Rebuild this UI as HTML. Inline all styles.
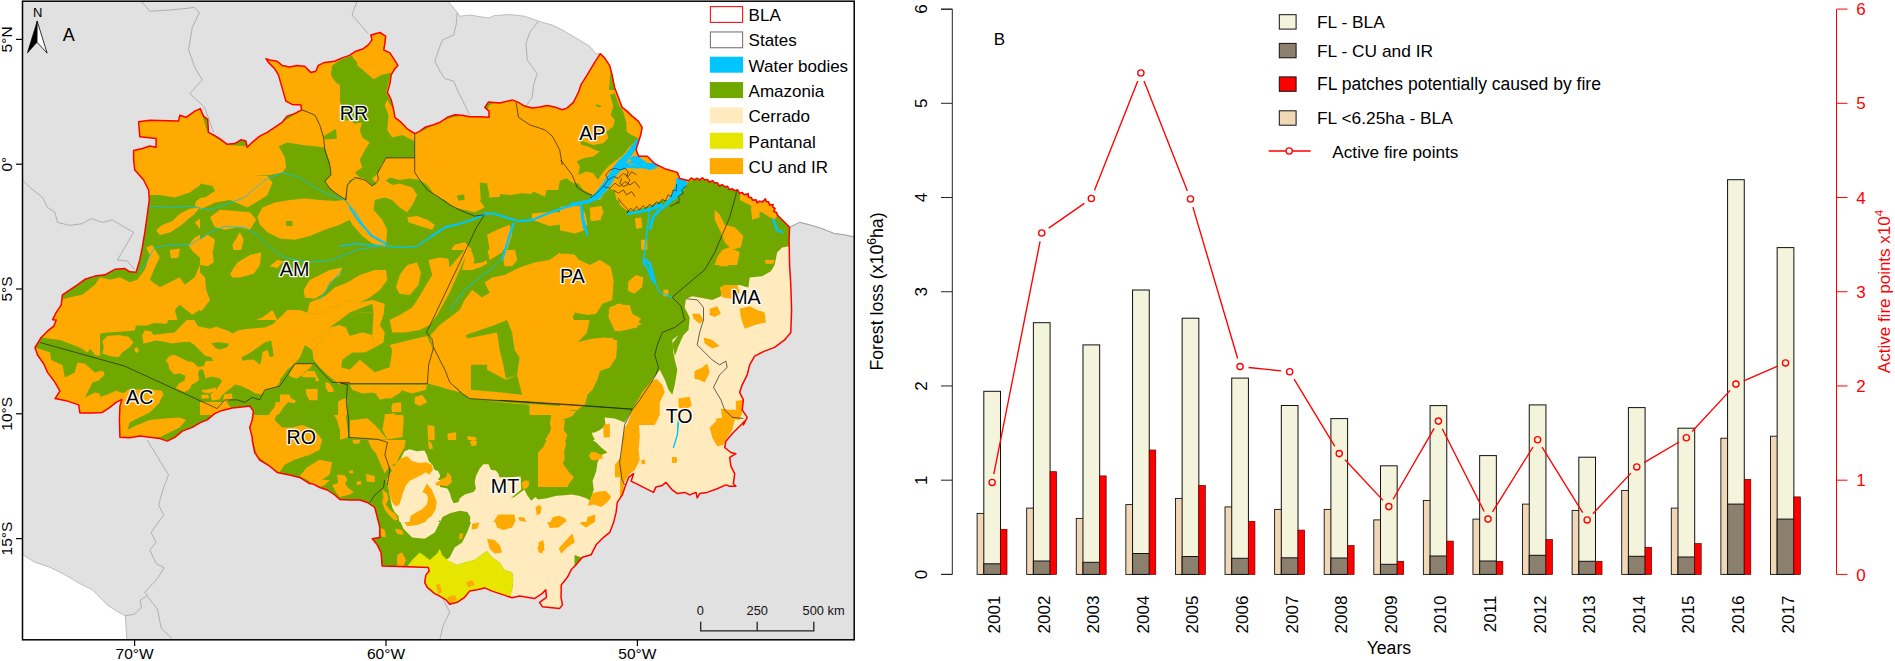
<!DOCTYPE html>
<html lang="en"><head><meta charset="utf-8"><title>Forest loss in the Brazilian Legal Amazon</title>
<style>
html,body{margin:0;padding:0;background:#fff;}
body{width:1895px;height:661px;overflow:hidden;font-family:"Liberation Sans",Arial,sans-serif;}
svg{display:block;}
</style></head><body>
<svg width="1895" height="661" viewBox="0 0 1895 661">
<rect width="1895" height="661" fill="#fff"/>
<defs><clipPath id="fr"><rect x="22.5" y="1.2" width="831.7" height="638.5999999999999"/></clipPath>
<clipPath id="bla"><path d="M133.6 150.5L142.3 148.5L149.8 146.0L156.1 147.3L156.1 138.6L139.8 136.8L138.6 121.8L149.8 120.3L178.5 121.1L179.8 115.3L186.0 117.3L194.8 111.1L200.2 108.6L203.5 116.1L207.7 119.3L208.5 132.3L213.5 134.8L219.7 138.6L227.2 144.3L234.7 143.6L240.9 139.8L245.9 141.1L247.2 147.3L252.2 142.3L259.7 136.1L267.2 132.3L274.6 127.3L282.1 122.3L287.1 116.1L294.6 113.6L301.6 109.8L300.9 104.9L292.1 104.4L285.9 101.1L283.4 92.4L280.9 83.6L278.4 74.9L274.6 68.7L268.4 62.4L265.9 58.7L269.7 59.9L277.1 61.2L282.1 65.4L289.6 66.9L297.1 65.4L304.6 66.2L310.8 72.4L315.8 71.2L318.3 65.4L324.6 62.4L334.6 61.2L342.1 57.9L349.5 55.4L355.8 51.2L363.3 48.7L368.3 44.9L372.0 39.9L370.8 35.0L380.0 32.5L385.7 36.2L384.9 43.7L383.7 49.9L389.9 52.9L393.7 58.7L397.9 65.4L394.9 68.7L391.2 74.9L389.9 83.6L387.4 92.4L391.2 99.9L393.7 109.8L394.9 117.3L401.2 122.3L406.9 128.6L414.9 133.6L419.9 131.1L424.9 127.3L433.6 124.8L439.9 122.3L447.4 117.3L454.8 114.8L462.3 115.3L469.8 116.8L479.8 116.8L489.0 117.3L489.0 111.1L484.8 107.4L488.5 101.9L499.8 102.9L512.3 99.9L518.5 102.4L524.7 106.1L532.2 107.9L539.7 106.9L547.2 105.4L554.7 106.9L562.2 109.8L567.2 107.9L573.4 102.4L578.4 92.4L580.9 84.9L587.2 74.9L594.6 62.4L600.4 53.7L604.6 57.9L609.6 65.4L612.1 74.9L614.6 87.4L618.4 97.4L622.1 107.4L627.1 111.1L632.1 116.1L638.3 121.1L642.1 127.3L640.8 134.8L638.3 142.3L636.1 149.9L638.6 156.2L647.3 156.2L654.8 163.7L664.8 168.7L677.3 172.4L679.8 178.6L688.6 180.8L691.2 177.9L694.4 179.8L697.2 178.2L699.5 180.2L702.4 177.8L704.6 180.1L707.4 179.4L709.2 182.2L712.6 180.6L714.6 183.0L717.5 182.8L719.1 186.0L722.5 184.7L724.6 186.8L727.6 186.3L729.2 189.8L732.4 188.7L734.5 190.6L737.7 189.7L739.2 193.3L742.3 192.6L744.4 194.7L748.2 193.6L748.6 197.2L751.4 197.6L752.5 200.3L756.1 199.7L757.3 203.0L759.5 201.2L762.5 202.1L765.4 198.8L766.2 201.5L768.7 201.8L769.4 205.0L773.1 204.4L772.8 207.0L775.0 208.4L773.7 211.6L776.8 212.5L777.1 214.8L784.6 222.3L789.6 227.3L789.1 239.8L789.6 265.0L790.8 285.0L791.6 309.9L790.8 332.4L784.6 339.9L774.6 347.4L764.6 351.1L754.6 356.1L749.7 364.9L747.2 374.8L742.2 384.8L739.7 392.3L743.4 399.8L742.2 409.8L747.2 417.3L743.4 425.0L745.9 420.0L739.7 426.2L732.2 433.7L725.9 441.2L724.7 447.5L730.9 452.5L735.9 453.7L729.7 457.4L730.9 466.2L734.7 473.7L733.4 483.7L735.9 486.2L729.7 486.2L725.9 484.9L717.2 488.7L707.2 492.4L699.7 493.6L697.2 497.9L696.0 492.4L689.7 494.9L684.7 492.4L677.3 493.6L672.3 489.9L666.0 482.4L662.3 485.4L656.0 486.9L653.5 492.4L646.0 488.7L638.6 484.9L631.1 481.2L633.6 473.7L628.6 477.4L624.8 487.4L622.3 494.9L617.3 502.4L616.1 512.4L613.6 522.4L609.8 532.3L603.6 537.3L596.1 544.8L591.1 554.8L582.4 557.3L576.1 564.8L571.2 569.8L567.4 577.3L561.2 585.0L561.2 589.8L561.0 597.3L562.5 604.8L559.5 608.6L552.0 607.8L542.5 606.8L539.5 602.3L546.5 597.3L545.8 589.8L542.0 593.6L534.5 598.6L527.0 597.3L519.6 596.1L512.1 597.8L507.1 596.1L499.6 593.6L492.1 591.1L484.6 587.9L477.1 589.8L469.6 591.1L464.6 597.3L457.1 602.3L449.7 604.3L445.9 599.8L439.7 596.1L434.7 593.6L427.2 587.4L424.7 582.4L425.9 574.9L429.2 571.1L428.4 567.4L414.7 566.9L399.7 566.6L382.2 566.1L381.0 552.4L377.3 544.9L372.3 538.7L379.8 537.4L379.8 527.4L377.3 517.4L374.8 507.5L367.3 502.5L359.8 500.0L349.8 500.0L339.8 499.5L334.8 495.0L327.3 490.0L319.8 487.5L312.3 483.7L309.6 483.7L299.6 477.4L289.6 475.0L277.1 472.5L269.7 466.2L259.7 460.0L254.7 452.5L252.2 440.0L252.2 437.3L249.7 427.4L252.2 419.9L253.4 411.1L249.7 406.1L242.2 406.9L232.2 407.9L222.2 410.4L214.7 413.6L207.2 419.9L199.8 422.9L192.3 427.4L182.3 431.1L174.8 437.3L167.3 441.1L159.8 438.6L149.8 437.3L139.8 436.1L129.8 437.8L119.9 437.3L119.4 419.9L119.9 406.1L121.9 399.4L116.1 402.4L109.9 407.4L102.4 412.4L92.4 412.9L79.9 412.9L78.7 404.9L67.4 401.1L55.0 398.6L59.9 391.2L55.0 382.4L47.5 372.4L43.7 363.7L37.5 355.0L35.0 347.5L41.2 337.5L47.5 331.2L53.7 326.2L56.2 320.0L52.5 319.8L56.2 312.3L61.2 304.8L62.4 294.8L69.9 289.8L77.4 284.8L84.9 279.3L94.9 276.1L104.9 274.8L114.9 269.3L124.9 268.6L129.8 271.8L136.1 272.3L139.8 259.9L142.3 247.4L144.8 232.4L147.3 214.9L149.3 199.9L148.6 190.0L143.6 180.0L134.8 170.0L133.6 160.0Z"/></clipPath></defs>
<g clip-path="url(#fr)">
<rect x="22.5" y="1.2" width="831.7" height="638.5999999999999" fill="#e1e1e1"/>
<path d="M446.1 -1.2L457.3 12.5L459.8 16.2L469.8 15.0L488.5 18.0L494.8 15.5L509.8 14.5L524.7 16.2L538.5 21.2L552.2 25.0L564.7 31.2L577.2 38.7L589.7 46.2L595.9 53.7L600.4 53.7L604.6 57.9L609.6 65.4L612.1 74.9L614.6 87.4L618.4 97.4L622.1 107.4L627.1 111.1L632.1 116.1L638.3 121.1L642.1 127.3L640.8 134.8L638.3 142.3L636.1 149.9L638.6 156.2L647.3 156.2L654.8 163.7L664.8 168.7L677.3 172.4L679.8 178.6L688.5 179.9L697.2 178.6L707.2 179.9L717.2 183.6L727.2 187.4L737.2 191.1L747.2 194.9L757.1 202.4L764.6 199.9L772.1 204.9L777.1 214.8L784.6 222.3L789.6 227.3L799.6 222.3L809.6 224.8L822.1 228.6L834.5 233.6L844.5 234.8L859.5 237.8L860.0 238.0L860.0 -5.0Z" fill="#fff" stroke="#9a9a9a" stroke-width="0.6"/>
<path d="M20.0 555.0L22.5 554.8L35.0 562.3L50.0 567.3L64.9 574.8L79.9 583.6L92.4 589.8L99.9 597.3L107.4 605.0L112.0 608.0L118.0 612.0L125.3 615.6L127.0 642.0L20.0 642.0Z" fill="#fff" stroke="#9a9a9a" stroke-width="0.6"/>
<path d="M141.1 1.2L149.8 11.2L169.8 10.0L194.8 7.5L199.3 12.5L192.3 27.5L188.5 49.9L194.8 67.4L202.2 79.9L189.8 93.6L204.7 107.4L213.5 132.3" fill="none" stroke="#9a9a9a" stroke-width="0.7"/>
<path d="M357.0 1.2L352.0 15.0L368.3 33.7" fill="none" stroke="#9a9a9a" stroke-width="0.7"/>
<path d="M457.3 12.5L456.1 25.0L453.6 35.0L442.4 39.9L438.6 49.9L434.9 61.2L439.9 71.2L444.9 78.6L453.6 81.1L457.3 89.9L464.8 104.9L469.8 115.3" fill="none" stroke="#9a9a9a" stroke-width="0.7"/>
<path d="M538.5 21.2L529.7 32.5L526.0 43.7L527.2 59.9L537.2 73.6L533.5 84.9L532.2 97.4L526.0 106.1" fill="none" stroke="#9a9a9a" stroke-width="0.7"/>
<path d="M20.0 177.5L30.0 187.5L42.5 197.4L47.5 207.4L55.0 212.4L57.4 222.4L69.9 225.4L82.4 223.7L91.2 218.7L102.4 222.4L112.4 219.9L124.9 227.4L133.6 232.4L117.4 259.9L127.4 261.1L134.8 269.8" fill="none" stroke="#9a9a9a" stroke-width="0.7"/>
<path d="M147.3 440.0L168.5 475.0L163.6 487.4L158.6 504.9L163.6 514.9L151.1 532.4L156.1 542.4L149.8 549.8L156.1 563.6L164.3 567.8L157.3 578.6L144.8 592.3L147.6 595.8" fill="none" stroke="#9a9a9a" stroke-width="0.7"/>
<path d="M147.6 595.7L140.2 600.1L141.4 607.5L134.0 614.4L125.3 615.6" fill="none" stroke="#9a9a9a" stroke-width="0.7"/>
<path d="M147.6 596.4L157.5 609.4L161.3 628.6L172.4 638.5" fill="none" stroke="#9a9a9a" stroke-width="0.7"/>
<path d="M442.2 597.3L449.7 612.3L443.4 624.8L439.7 639.8" fill="none" stroke="#9a9a9a" stroke-width="0.7"/>
<path d="M789.6 227.3L799.6 222.3L809.6 224.8L822.1 228.6L834.5 233.6L844.5 234.8L854.5 237.3" fill="none" stroke="#9a9a9a" stroke-width="0.7"/>
<g clip-path="url(#bla)">
<path d="M133.6 150.5L142.3 148.5L149.8 146.0L156.1 147.3L156.1 138.6L139.8 136.8L138.6 121.8L149.8 120.3L178.5 121.1L179.8 115.3L186.0 117.3L194.8 111.1L200.2 108.6L203.5 116.1L207.7 119.3L208.5 132.3L213.5 134.8L219.7 138.6L227.2 144.3L234.7 143.6L240.9 139.8L245.9 141.1L247.2 147.3L252.2 142.3L259.7 136.1L267.2 132.3L274.6 127.3L282.1 122.3L287.1 116.1L294.6 113.6L301.6 109.8L300.9 104.9L292.1 104.4L285.9 101.1L283.4 92.4L280.9 83.6L278.4 74.9L274.6 68.7L268.4 62.4L265.9 58.7L269.7 59.9L277.1 61.2L282.1 65.4L289.6 66.9L297.1 65.4L304.6 66.2L310.8 72.4L315.8 71.2L318.3 65.4L324.6 62.4L334.6 61.2L342.1 57.9L349.5 55.4L355.8 51.2L363.3 48.7L368.3 44.9L372.0 39.9L370.8 35.0L380.0 32.5L385.7 36.2L384.9 43.7L383.7 49.9L389.9 52.9L393.7 58.7L397.9 65.4L394.9 68.7L391.2 74.9L389.9 83.6L387.4 92.4L391.2 99.9L393.7 109.8L394.9 117.3L401.2 122.3L406.9 128.6L414.9 133.6L419.9 131.1L424.9 127.3L433.6 124.8L439.9 122.3L447.4 117.3L454.8 114.8L462.3 115.3L469.8 116.8L479.8 116.8L489.0 117.3L489.0 111.1L484.8 107.4L488.5 101.9L499.8 102.9L512.3 99.9L518.5 102.4L524.7 106.1L532.2 107.9L539.7 106.9L547.2 105.4L554.7 106.9L562.2 109.8L567.2 107.9L573.4 102.4L578.4 92.4L580.9 84.9L587.2 74.9L594.6 62.4L600.4 53.7L604.6 57.9L609.6 65.4L612.1 74.9L614.6 87.4L618.4 97.4L622.1 107.4L627.1 111.1L632.1 116.1L638.3 121.1L642.1 127.3L640.8 134.8L638.3 142.3L636.1 149.9L638.6 156.2L647.3 156.2L654.8 163.7L664.8 168.7L677.3 172.4L679.8 178.6L688.6 180.8L691.2 177.9L694.4 179.8L697.2 178.2L699.5 180.2L702.4 177.8L704.6 180.1L707.4 179.4L709.2 182.2L712.6 180.6L714.6 183.0L717.5 182.8L719.1 186.0L722.5 184.7L724.6 186.8L727.6 186.3L729.2 189.8L732.4 188.7L734.5 190.6L737.7 189.7L739.2 193.3L742.3 192.6L744.4 194.7L748.2 193.6L748.6 197.2L751.4 197.6L752.5 200.3L756.1 199.7L757.3 203.0L759.5 201.2L762.5 202.1L765.4 198.8L766.2 201.5L768.7 201.8L769.4 205.0L773.1 204.4L772.8 207.0L775.0 208.4L773.7 211.6L776.8 212.5L777.1 214.8L784.6 222.3L789.6 227.3L789.1 239.8L789.6 265.0L790.8 285.0L791.6 309.9L790.8 332.4L784.6 339.9L774.6 347.4L764.6 351.1L754.6 356.1L749.7 364.9L747.2 374.8L742.2 384.8L739.7 392.3L743.4 399.8L742.2 409.8L747.2 417.3L743.4 425.0L745.9 420.0L739.7 426.2L732.2 433.7L725.9 441.2L724.7 447.5L730.9 452.5L735.9 453.7L729.7 457.4L730.9 466.2L734.7 473.7L733.4 483.7L735.9 486.2L729.7 486.2L725.9 484.9L717.2 488.7L707.2 492.4L699.7 493.6L697.2 497.9L696.0 492.4L689.7 494.9L684.7 492.4L677.3 493.6L672.3 489.9L666.0 482.4L662.3 485.4L656.0 486.9L653.5 492.4L646.0 488.7L638.6 484.9L631.1 481.2L633.6 473.7L628.6 477.4L624.8 487.4L622.3 494.9L617.3 502.4L616.1 512.4L613.6 522.4L609.8 532.3L603.6 537.3L596.1 544.8L591.1 554.8L582.4 557.3L576.1 564.8L571.2 569.8L567.4 577.3L561.2 585.0L561.2 589.8L561.0 597.3L562.5 604.8L559.5 608.6L552.0 607.8L542.5 606.8L539.5 602.3L546.5 597.3L545.8 589.8L542.0 593.6L534.5 598.6L527.0 597.3L519.6 596.1L512.1 597.8L507.1 596.1L499.6 593.6L492.1 591.1L484.6 587.9L477.1 589.8L469.6 591.1L464.6 597.3L457.1 602.3L449.7 604.3L445.9 599.8L439.7 596.1L434.7 593.6L427.2 587.4L424.7 582.4L425.9 574.9L429.2 571.1L428.4 567.4L414.7 566.9L399.7 566.6L382.2 566.1L381.0 552.4L377.3 544.9L372.3 538.7L379.8 537.4L379.8 527.4L377.3 517.4L374.8 507.5L367.3 502.5L359.8 500.0L349.8 500.0L339.8 499.5L334.8 495.0L327.3 490.0L319.8 487.5L312.3 483.7L309.6 483.7L299.6 477.4L289.6 475.0L277.1 472.5L269.7 466.2L259.7 460.0L254.7 452.5L252.2 440.0L252.2 437.3L249.7 427.4L252.2 419.9L253.4 411.1L249.7 406.1L242.2 406.9L232.2 407.9L222.2 410.4L214.7 413.6L207.2 419.9L199.8 422.9L192.3 427.4L182.3 431.1L174.8 437.3L167.3 441.1L159.8 438.6L149.8 437.3L139.8 436.1L129.8 437.8L119.9 437.3L119.4 419.9L119.9 406.1L121.9 399.4L116.1 402.4L109.9 407.4L102.4 412.4L92.4 412.9L79.9 412.9L78.7 404.9L67.4 401.1L55.0 398.6L59.9 391.2L55.0 382.4L47.5 372.4L43.7 363.7L37.5 355.0L35.0 347.5L41.2 337.5L47.5 331.2L53.7 326.2L56.2 320.0L52.5 319.8L56.2 312.3L61.2 304.8L62.4 294.8L69.9 289.8L77.4 284.8L84.9 279.3L94.9 276.1L104.9 274.8L114.9 269.3L124.9 268.6L129.8 271.8L136.1 272.3L139.8 259.9L142.3 247.4L144.8 232.4L147.3 214.9L149.3 199.9L148.6 190.0L143.6 180.0L134.8 170.0L133.6 160.0Z" fill="#70a800"/>
<path d="M799.6 245.0L789.6 246.3L782.1 247.5L777.1 252.5L774.6 265.0L770.9 271.2L762.1 276.2L749.7 277.5L748.4 287.5L739.7 285.0L724.7 286.2L720.9 296.2L712.2 299.9L699.7 297.4L692.2 296.2L686.0 298.7L684.7 307.4L689.7 317.4L688.5 329.9L683.5 334.9L678.5 346.1L674.8 356.1L672.3 343.6L678.5 334.9L672.3 339.9L673.3 352.4L674.8 359.9L677.3 369.8L674.8 384.8L672.3 394.8L668.5 389.8L664.8 379.8L659.8 369.8L652.3 379.8L644.8 392.3L637.3 402.3L632.3 409.8L627.3 419.8L632.1 409.9L624.6 422.4L614.6 418.6L604.6 417.4L605.9 427.4L599.6 434.8L592.1 432.3L594.6 439.8L604.6 444.8L599.6 449.8L589.7 454.8L594.6 464.8L595.9 479.8L609.8 422.5L599.9 430.0L591.9 433.7L596.1 442.5L606.1 448.7L606.1 453.7L597.4 461.2L596.1 472.4L593.6 484.9L589.9 499.9L582.4 494.9L572.4 493.6L559.9 492.4L547.4 497.9L532.5 500.4L525.0 492.9L517.5 494.9L510.0 493.6L500.0 492.4L522.1 498.7L512.1 495.0L513.3 488.7L522.1 485.0L522.1 480.0L474.6 480.0L475.9 490.0L469.6 497.5L459.6 502.5L452.1 500.0L449.7 490.0L449.7 480.0L389.7 480.0L387.2 487.5L391.0 497.5L394.7 507.5L398.5 517.4L403.5 528.7L412.2 537.4L424.7 538.7L434.7 532.4L439.7 522.4L449.7 515.0L462.1 511.2L469.6 515.0L470.9 522.4L467.1 532.4L462.1 542.4L454.6 547.4L449.7 557.4L445.9 559.9L457.1 564.9L464.6 562.4L474.6 559.9L484.6 552.4L487.1 551.2L492.1 557.4L499.6 562.4L504.6 569.9L512.1 572.4L513.3 579.9L512.1 589.8L509.6 597.3L512.1 609.8L574.5 619.8L574.5 554.9L700.0 600.0L900.0 600.0L900.0 250.0Z" fill="#ffebbe"/>
<path d="M399.9 459.8L402.4 452.3L412.4 449.8L422.4 452.3L427.4 462.3L434.9 469.8L439.9 477.3L442.4 485.0L389.9 485.0L392.4 469.8L407.2 480.0L389.7 480.0L387.2 487.5Z" fill="#ffebbe"/>
<path d="M474.8 485.0L476.1 474.8L479.8 467.3L487.3 463.6L492.3 469.8L499.8 474.8L514.8 476.0L527.2 479.8L529.7 485.0L529.7 494.8L474.8 494.8Z" fill="#ffebbe"/>
<path d="M407.2 566.6L412.2 559.9L419.7 552.4L424.7 556.1L429.7 559.9L437.2 553.6L439.7 548.7L442.2 554.9L447.2 559.9L457.1 564.9L464.6 562.4L474.6 559.9L484.6 552.4L487.1 551.2L492.1 557.4L499.6 562.4L504.6 569.9L512.1 572.4L513.3 579.9L512.1 589.8L509.6 597.3L509.6 609.8L424.7 609.8L419.7 579.9L424.7 567.4Z" fill="#e6e600"/>
<path d="M127.4 99.9L269.7 49.9L380.0 25.0L380.0 165.0L127.4 165.0Z M340.0 25.0L664.5 25.0L664.5 165.0L340.0 165.0Z M617.3 97.5L613.6 115.0L609.8 125.0L614.8 130.0L609.8 137.4L604.9 143.7L594.9 147.4L586.1 144.9L582.4 149.9L584.9 157.4L577.4 162.4L582.4 171.2L598.6 172.4L599.9 182.4L592.4 187.4L582.4 186.1L577.4 174.9L564.9 177.4L558.7 184.9L557.4 189.9L548.7 191.1L546.2 197.4L539.9 198.6L537.4 192.4L531.2 193.6L527.5 202.4L522.5 196.1L507.5 194.9L500.0 194.9L500.0 97.5Z M622.3 110.0L629.8 112.5L636.1 120.0L640.3 126.2L639.8 135.0L634.8 132.5L632.3 125.0L626.1 123.7L623.6 117.5Z M619.8 164.9L627.3 158.7L636.1 156.9L647.3 162.4L659.8 168.7L674.8 172.4L677.8 177.4L674.8 184.9L669.8 192.4L662.3 199.9L649.8 206.1L637.3 209.8L627.3 211.1L619.8 204.9L617.3 194.9L622.3 184.9L619.8 174.9Z M546.2 222.3L553.7 214.8L562.4 211.1L574.9 209.8L584.9 212.3L587.4 224.8L579.9 232.3L562.4 231.1L552.4 227.3Z M591.1 207.4L601.1 206.1L603.6 212.3L599.9 219.8L589.9 219.3Z M634.8 218.6L641.1 217.3L642.3 227.3L636.1 228.6Z M500.0 224.8L510.0 224.8L513.7 232.3L512.5 249.8L516.2 265.0L500.0 265.0Z M527.5 213.6L535.0 213.6L535.0 219.8L527.5 219.8Z M714.7 209.8L719.7 214.8L724.7 224.8L734.7 227.3L743.4 236.1L740.9 247.3L732.2 249.8L724.7 242.3L719.7 229.8L714.7 219.8Z M722.2 249.8L729.7 247.3L739.7 252.3L737.2 265.0L714.7 265.0L717.2 257.3Z M552.4 257.3L564.9 253.5L574.9 254.8L582.4 265.0L549.9 265.0Z M641.1 239.8L647.3 239.8L647.3 249.8L641.1 249.8Z M734.7 191.1L747.2 196.1L757.1 202.4L764.6 201.1L772.1 206.1L777.1 216.1L774.6 219.8L769.6 217.3L762.1 212.3L754.6 209.8L749.7 204.9L739.7 199.9Z M750.9 207.4L759.6 206.1L759.6 217.3L752.1 219.8Z M340.0 160.0L358.7 160.0L360.5 172.0L370.0 183.7L381.2 181.2L384.9 170.0L387.4 160.0L414.9 160.0L414.9 171.2L423.6 181.2L414.9 193.7L409.9 204.9L414.9 213.7L402.4 218.7L396.2 211.2L388.7 201.2L377.4 195.0L372.5 202.4L381.2 216.2L389.9 232.4L386.2 244.9L370.0 239.9L355.0 227.4L340.0 223.7Z M407.4 216.2L422.4 217.4L434.9 224.9L429.9 228.7L414.9 223.7L407.4 221.2Z M414.9 160.0L579.7 160.0L579.7 170.0L572.2 177.5L560.9 180.0L559.7 186.2L547.2 188.0L546.7 193.0L533.5 192.5L530.2 201.2L525.2 195.0L504.8 195.0L489.8 193.7L489.3 185.0L482.8 182.5L478.8 188.0L480.3 197.4L486.0 204.9L474.8 208.7L459.8 209.9L449.8 204.9L439.9 197.4L432.4 190.0L422.4 180.0L414.9 170.0Z M578.4 175.0L589.7 172.5L599.6 178.7L597.1 190.0L587.2 192.5L579.7 187.5Z M547.2 213.7L557.2 207.4L572.2 204.9L580.9 206.2L583.4 217.4L584.7 229.9L574.7 233.6L564.7 231.2L554.7 226.2L547.2 224.9Z M589.7 207.4L602.1 206.2L600.9 219.9L590.9 221.2Z M488.5 234.9L499.8 231.2L509.8 228.7L506.0 242.4L502.3 252.4L489.8 259.9L487.3 247.4Z M503.5 259.9L506.0 247.4L512.3 237.4L514.8 247.4L517.3 259.9L512.3 266.1L504.8 266.1Z M456.1 249.9L464.8 243.6L472.3 244.9L474.8 257.4L487.3 257.4L482.3 267.4L477.3 277.3L467.3 284.8L457.3 292.3L449.8 307.3L439.9 319.8L434.9 325.0L387.4 325.0L392.4 314.8L404.9 307.3L414.9 303.6L414.9 289.8L424.9 282.3L429.9 269.8L427.4 258.6L434.9 257.4L447.4 258.6L449.8 267.4Z M489.8 284.8L499.8 277.3L514.8 276.1L524.7 267.4L539.7 266.1L552.2 257.4L559.7 253.6L569.7 254.9L570.9 259.9L579.7 259.9L589.7 264.9L599.6 259.9L610.9 267.4L613.4 279.8L612.1 299.8L602.1 302.3L597.1 312.3L589.7 314.8L579.7 309.8L572.2 312.3L574.7 325.0L479.8 325.0L484.8 314.8L489.8 299.8L482.3 289.8Z M609.6 307.3L619.6 303.6L629.6 307.3L632.1 317.3L642.1 325.0L612.1 325.0L608.4 317.3Z M628.3 282.3L635.8 276.1L643.3 277.3L642.1 287.3L634.6 293.6L628.3 291.1Z M394.9 269.8L404.9 263.6L414.9 262.4L419.9 272.3L417.4 287.3L407.4 296.1L396.2 292.3L393.7 279.8Z M320.8 299.8L330.0 296.1L340.0 289.8L355.0 277.3L376.4 269.8L388.2 271.8L388.2 279.8L379.9 289.8L367.5 297.3L355.0 302.3L345.0 309.8L335.0 319.8L325.0 325.0L320.8 325.0Z M340.0 309.8L352.5 303.6L367.5 299.8L373.7 309.8L367.5 325.0L340.0 325.0Z M372.5 304.8L387.4 302.3L389.9 314.8L384.9 325.0L375.0 325.0Z M635.8 218.7L640.8 217.4L642.1 227.4L637.1 228.7Z M642.1 239.9L646.6 239.9L646.6 247.4L642.1 247.4Z M663.3 289.8L668.3 289.8L668.3 296.1L663.3 296.1Z M500.0 283.7L510.0 280.0L521.2 282.5L525.0 270.0L537.4 266.2L549.9 267.5L557.4 260.0L574.9 260.0L582.4 262.5L589.9 267.5L599.9 260.0L609.8 266.2L613.6 280.0L612.3 299.9L602.4 303.7L596.1 313.7L587.4 314.9L574.9 312.4L572.4 317.4L579.9 327.4L587.4 332.4L579.9 339.9L572.4 347.4L582.4 342.4L599.9 339.9L612.3 337.4L617.3 344.9L616.1 357.4L609.8 367.4L599.9 371.1L597.4 379.8L592.4 389.8L587.4 394.8L584.9 404.8L577.4 409.8L562.4 411.0L549.9 407.3L530.0 409.8L525.0 399.8L517.5 394.8L515.0 382.3L520.0 377.3L515.0 364.9L512.5 347.4L511.2 334.9L515.0 324.9L507.5 322.4L500.0 319.9Z M608.6 309.9L617.3 303.7L629.8 304.9L632.3 313.7L641.1 318.7L636.1 324.9L624.8 328.7L614.8 331.2L611.1 322.4Z M628.6 281.2L636.1 275.0L643.6 277.5L639.8 287.5L633.6 293.7L627.8 290.0Z M663.5 290.0L667.8 289.5L667.8 296.2L663.5 296.2Z M717.2 260.0L733.4 260.0L727.2 266.2L719.7 266.2Z M719.7 287.5L724.7 285.0L737.2 285.0L739.7 292.5L732.2 298.7L722.2 297.4Z M739.7 308.7L749.7 306.2L757.1 309.9L764.6 312.4L765.9 322.4L754.6 324.9L744.7 328.7L740.9 317.4Z M709.7 308.7L717.2 306.2L720.9 313.7L714.7 316.9L709.7 314.9Z M692.2 313.7L699.7 313.7L703.5 319.9L699.7 323.7L693.5 318.7Z M703.5 337.4L712.2 339.9L719.7 346.1L712.2 348.6L704.7 343.6Z M694.7 371.1L702.2 367.4L707.2 363.6L709.7 372.3L704.7 382.3L698.5 379.8Z M639.8 399.8L649.8 384.8L656.0 378.6L662.3 384.8L664.8 392.3L659.8 402.3L659.8 414.8L654.8 425.0L632.3 425.0L634.8 412.3Z M678.5 398.6L689.7 396.8L691.7 406.0L684.7 409.8L678.5 407.3Z M735.9 401.1L743.4 399.8L743.4 409.8L739.7 419.8L722.2 419.8L720.9 408.5L729.7 409.8L735.9 409.8Z M716.0 418.5L727.2 417.3L732.2 425.0L717.2 425.0Z M528.7 406.0L549.9 407.8L562.4 411.5L574.9 411.0L577.4 409.8L572.4 416.0L562.4 419.8L559.9 425.0L549.9 425.0L551.2 414.8L537.4 412.3L530.0 411.0Z M500.0 359.9L503.7 364.9L505.0 377.3L500.0 379.8Z M764.6 260.0L774.6 260.0L773.4 263.7L765.9 263.7Z M55.0 320.0L194.8 320.0L192.3 327.5L179.8 330.0L167.3 327.5L154.8 332.5L144.8 340.0L137.3 343.7L129.8 337.5L119.9 335.0L107.4 338.7L102.4 345.0L92.4 346.2L87.4 352.5L79.9 347.5L69.9 343.7L59.9 340.0L50.0 338.7L42.5 337.5L47.5 331.2L53.7 326.2Z M88.7 346.2L102.4 343.7L107.4 337.5L119.9 335.0L132.3 337.5L137.3 345.0L129.8 352.5L119.9 355.0L107.4 357.4L94.9 355.0Z M35.0 347.5L50.0 352.5L51.2 359.9L62.4 364.9L64.9 377.4L74.9 372.4L77.4 362.4L84.9 363.7L94.9 372.4L104.9 369.9L99.9 379.9L92.4 382.4L84.9 397.4L94.9 392.4L104.9 394.9L117.4 392.4L121.9 399.4L116.1 402.9L102.4 412.4L79.9 412.9L78.7 404.9L55.0 398.6L59.9 391.2L47.5 372.4L37.5 355.0Z M119.9 402.4L129.8 394.9L139.8 392.4L154.8 391.2L163.6 392.4L159.8 402.4L149.8 412.4L137.3 418.6L129.8 422.4L127.4 429.8L137.3 424.9L149.8 419.9L164.8 418.6L179.8 417.4L186.0 419.9L179.8 427.4L169.8 432.3L159.8 437.3L119.9 437.8Z M164.8 361.2L172.3 355.0L182.3 356.2L192.3 359.9L202.2 369.9L199.8 379.9L192.3 384.9L182.3 389.9L177.3 382.4L169.8 374.9L166.0 368.7Z M142.3 335.0L154.8 331.2L169.8 328.7L182.3 331.2L194.8 327.5L209.7 325.0L232.2 332.5L244.7 330.0L259.7 327.5L269.7 320.0L314.6 320.0L309.6 330.0L302.1 342.5L294.6 350.0L299.6 357.4L294.6 363.7L288.4 373.7L279.6 384.9L267.2 388.7L259.7 394.9L249.7 399.9L239.7 394.9L232.2 386.2L222.2 392.4L207.2 394.9L199.8 392.4L204.7 382.4L217.2 377.4L212.2 369.9L204.7 362.4L212.2 357.4L204.7 352.5L194.8 347.5L182.3 345.0L169.8 342.5L154.8 345.0L144.8 343.7Z M314.6 355.0L319.6 345.0L327.1 330.0L334.6 322.5L344.5 327.5L347.0 335.0L352.0 345.0L344.5 352.5L339.6 362.4L344.5 369.9L354.5 359.9L364.5 357.4L374.5 359.9L380.0 362.4L380.0 382.4L349.5 382.4L337.1 381.2L329.6 374.9L322.1 367.4Z M253.4 411.1L259.7 404.9L269.7 399.9L279.6 394.9L284.6 397.4L279.6 407.4L274.6 419.9L282.1 427.4L292.1 427.4L302.1 424.9L314.6 429.8L322.1 439.8L319.6 449.8L309.6 454.8L294.6 459.8L284.6 464.8L279.6 472.3L272.1 467.3L257.2 456.1L252.2 437.3L249.7 427.4Z M302.1 369.9L314.6 367.4L319.6 379.9L317.1 394.9L307.1 399.9L304.6 389.9L309.6 382.4Z M319.6 459.8L332.1 462.3L329.6 474.8L314.6 485.0L307.1 479.8L299.6 476.0L307.1 467.3Z M324.6 384.9L347.0 383.7L347.0 394.9L344.5 407.4L347.0 424.9L339.6 429.8L337.1 419.9L329.6 407.4L327.1 394.9Z M354.5 419.9L364.5 418.6L369.5 427.4L380.0 429.8L380.0 437.3L352.0 437.3Z M352.0 439.8L380.0 439.8L380.0 485.0L369.5 485.0L374.5 469.8L364.5 459.8L357.0 449.8Z M337.1 474.8L347.0 476.0L347.0 485.0L338.3 485.0Z M388.7 320.0L429.9 320.0L424.9 330.0L414.9 328.7L391.2 333.7Z M340.0 336.2L355.0 333.7L370.0 341.2L367.5 350.0L355.0 353.7L347.5 359.9L340.0 363.7Z M340.0 367.4L352.5 362.4L363.7 357.4L375.0 373.7L402.4 361.2L388.7 352.5L426.1 336.2L432.4 347.5L428.6 364.9L427.4 382.4L345.0 383.7L340.0 382.4Z M433.6 320.0L499.8 320.0L496.0 325.0L479.8 330.0L466.1 333.7L466.1 338.7L479.8 335.0L497.3 331.2L499.8 347.5L502.3 362.4L504.8 378.7L487.3 364.9L471.1 364.9L471.1 392.4L462.3 393.6L449.8 382.4L444.9 369.9L437.4 355.0L432.9 347.5L436.1 332.5Z M514.8 320.0L589.7 320.0L587.2 331.2L575.9 338.7L575.9 342.5L592.1 338.7L604.6 337.5L617.1 340.0L615.9 355.0L609.6 366.2L599.6 369.9L594.6 381.2L587.2 394.9L582.2 403.6L529.7 402.4L524.7 399.9L517.3 394.9L514.8 384.9L520.2 379.9L519.8 357.4L514.8 353.7L512.3 332.5Z M528.5 403.6L582.2 404.9L572.2 406.1L569.7 413.6L562.2 414.9L559.7 424.9L564.7 434.8L559.7 449.8L564.7 459.8L562.2 469.8L569.7 479.8L572.2 485.0L539.7 485.0L538.5 459.8L542.2 444.8L549.7 432.3L554.7 419.9L552.2 412.4L529.7 410.4Z M612.1 320.0L639.6 320.0L637.1 327.5L619.6 331.2L613.4 326.2Z M340.0 394.9L345.0 394.9L346.2 419.9L348.7 437.3L340.0 439.8Z M355.0 385.4L378.7 385.4L379.9 396.1L372.5 402.4L365.0 399.9L357.5 402.4Z M384.9 414.9L393.7 404.9L402.4 406.1L403.7 419.9L402.4 437.3L387.4 439.3L382.4 429.8Z M350.0 419.9L367.5 418.6L375.0 424.9L387.4 439.8L350.0 437.8Z M365.0 439.8L387.4 442.3L384.9 454.8L389.9 469.8L387.4 485.0L367.5 485.0L370.0 469.8L363.7 454.8Z M391.2 469.8L399.9 459.8L412.4 456.1L424.9 459.8L432.4 469.8L439.9 477.3L449.8 472.3L451.1 485.0L389.9 485.0Z M414.9 396.1L424.9 394.9L426.1 404.9L416.1 404.9Z M427.4 424.9L434.4 426.1L434.9 449.8L428.6 448.6Z M447.4 433.6L456.1 432.3L456.1 441.1L447.9 441.1Z M467.3 436.1L476.1 437.3L477.3 446.1L468.6 447.3Z M632.1 409.9L642.1 392.4L652.1 379.9L657.1 379.9L659.6 389.9L664.5 392.4L659.6 402.4L657.1 419.9L647.1 422.4L639.6 419.9L638.3 437.3L637.1 454.8L629.6 469.8L622.1 479.8L614.6 477.3L619.6 459.8L624.6 439.8L627.1 424.9Z M679.5 398.6L689.5 397.4L690.8 404.9L684.5 407.4L679.5 404.9Z M694.5 371.2L700.0 369.9L700.0 379.9L694.5 378.7Z M603.4 424.9L609.6 423.6L610.1 433.6L603.4 434.8Z M589.7 454.8L599.6 453.6L602.1 458.6L592.1 461.1Z M672.0 457.3L677.0 457.3L677.0 462.3L672.0 462.3Z M549.9 420.0L564.9 420.0L563.7 430.0L567.4 435.0L563.7 445.0L564.9 457.4L573.6 478.7L567.4 486.9L537.4 486.9L537.4 452.5L547.4 440.0L551.2 430.0Z M624.8 427.5L629.8 420.0L638.6 420.0L639.8 435.0L638.6 450.0L639.8 459.9L634.8 469.9L629.8 473.7L624.8 481.2L622.3 494.9L617.3 502.4L616.8 489.9L619.8 479.9L614.8 474.9L617.3 464.9L621.1 455.0L622.3 440.0Z M709.7 427.5L717.2 420.0L734.7 420.0L732.2 430.0L727.2 437.5L723.4 445.0L717.2 446.2L712.2 437.5Z M589.9 494.9L594.9 491.2L607.4 491.2L611.1 499.9L604.9 504.9L594.9 506.1L588.6 504.9Z M500.0 514.9L510.0 514.4L516.2 519.9L511.2 527.4L502.5 529.8L500.0 527.4Z M547.4 522.4L553.7 516.1L563.7 514.9L566.2 521.1L558.7 527.4L549.9 527.9Z M579.9 523.6L588.6 516.1L594.9 514.9L596.1 521.1L586.1 527.4Z M558.7 548.6L568.7 537.3L572.4 533.6L574.9 542.3L567.4 547.3L561.2 553.6Z M537.4 547.3L542.4 539.8L544.4 544.8L542.4 553.6L538.7 552.3Z M535.0 509.9L539.9 504.9L541.9 511.1L537.4 516.1Z M517.5 517.4L523.7 516.1L526.2 519.9L520.0 521.1Z M521.2 483.7L527.5 481.2L529.5 487.4L523.7 489.9Z M603.6 425.0L609.8 425.0L609.8 437.5L603.6 437.5Z M588.6 453.7L599.9 452.5L602.4 457.4L592.4 461.2Z M672.3 456.9L676.0 456.9L676.0 462.9L672.3 462.9Z M641.1 459.9L644.8 459.4L645.3 463.7L641.8 464.4Z M307.4 480.0L329.8 480.0L324.8 485.0L319.8 487.0Z M332.3 485.0L339.8 482.5L349.8 486.2L354.8 492.5L347.3 495.0L339.8 497.5L336.1 492.5Z M387.2 480.0L407.2 480.0L404.7 490.0L399.7 500.0L397.2 505.0L392.2 500.0L388.5 490.0Z M402.2 518.7L412.2 512.5L419.7 507.5L422.2 495.0L424.7 486.2L429.7 483.7L433.4 492.5L435.9 502.5L434.7 512.5L427.2 521.2L417.2 524.9L407.2 526.2Z M435.9 480.0L452.1 480.0L449.7 485.0L439.7 486.2Z M494.6 519.9L502.1 515.0L512.1 513.7L515.8 519.9L512.1 527.4L503.3 529.9L497.1 527.4Z M487.1 538.7L494.6 539.9L499.6 544.9L502.1 552.4L494.6 553.6L489.6 548.7Z M472.1 523.7L479.6 522.4L477.1 528.7L471.6 529.4Z M535.8 507.5L540.8 505.0L542.0 512.5L537.0 516.2Z M548.3 521.2L554.5 516.2L560.0 517.4L560.0 526.2L549.5 527.4Z M538.3 542.4L543.3 539.9L544.5 549.9L539.5 552.4Z M518.3 517.4L524.5 516.2L525.8 519.9L519.6 521.2Z M523.3 482.5L528.3 481.2L529.5 487.5L524.5 490.0Z M381.0 492.5L386.0 491.2L387.2 505.0L389.7 512.5L394.7 519.9L389.7 517.4L383.5 507.5Z M394.7 528.7L402.2 529.9L403.5 534.9L397.2 533.7Z M397.2 554.9L402.2 552.4L406.0 559.9L403.5 566.1L397.2 566.1Z M379.8 527.4L384.7 529.9L386.0 537.4L381.0 536.2Z M447.2 597.3L454.6 594.8L457.1 599.8L449.7 603.6Z M465.9 582.4L472.1 579.9L474.6 584.9L468.4 587.4Z M435.9 584.9L439.7 583.6L442.2 592.3L438.4 593.6Z M459.6 533.7L463.4 532.9L462.1 538.7L459.1 539.4Z M129.8 157.5L290.9 157.5L290.9 160.0L288.4 165.0L282.1 172.5L272.1 180.0L269.7 190.0L259.7 201.2L249.7 207.4L239.7 201.2L227.2 202.4L217.2 207.4L204.7 208.7L194.8 206.2L196.0 201.2L204.7 195.0L214.7 190.0L213.5 185.0L202.2 183.7L189.8 192.5L174.8 197.4L159.8 195.0L149.3 195.0L129.8 195.0Z M156.1 229.9L162.3 224.9L172.3 221.2L179.8 213.7L189.8 208.7L199.8 207.4L194.8 213.7L187.3 219.9L179.8 226.2L169.8 232.4L159.8 234.9Z M194.8 222.4L204.7 214.9L212.2 213.7L211.0 222.4L219.7 226.2L209.7 231.2L199.8 228.7Z M219.7 217.4L227.2 212.4L239.7 211.2L252.2 213.7L257.2 222.4L252.2 232.4L244.7 227.4L234.7 226.2L224.7 222.4Z M257.2 217.4L264.7 209.9L279.6 203.7L294.6 201.2L314.6 199.9L334.6 201.2L347.0 204.9L352.0 214.9L344.5 224.9L332.1 232.4L317.1 234.9L304.6 232.4L289.6 237.4L279.6 239.9L269.7 237.4L259.7 232.4Z M188.5 244.9L194.8 237.4L204.7 232.4L214.7 242.4L213.5 259.9L207.2 266.1L199.8 257.4L192.3 251.1Z M169.8 249.9L179.8 248.6L178.5 257.4L171.0 258.6Z M229.7 277.3L232.2 269.8L239.7 262.4L249.7 256.1L257.2 252.4L260.9 259.9L257.2 269.8L244.7 274.8L234.7 278.6Z M237.2 233.6L243.4 234.9L240.9 246.1L237.2 258.6L232.2 259.9L233.5 246.1Z M269.7 267.4L277.1 259.9L284.6 258.6L282.1 264.9L274.6 268.6Z M303.4 289.8L309.6 282.3L319.6 273.6L329.6 267.4L342.1 267.4L339.6 277.3L329.6 284.8L319.6 294.8L309.6 299.8L304.6 297.3Z M61.2 299.8L69.9 297.3L82.4 294.8L94.9 284.8L99.9 277.3L109.9 279.8L119.9 277.3L129.8 282.3L137.3 279.8L144.8 269.8L149.8 254.9L146.1 247.4L152.3 244.9L159.8 257.4L154.8 267.4L149.8 279.8L159.8 287.3L169.8 282.3L179.8 277.3L184.8 284.8L194.8 277.3L199.8 264.9L204.7 272.3L207.2 284.8L204.7 297.3L209.7 302.3L199.8 309.8L192.3 314.8L179.8 304.8L174.8 309.8L177.3 319.8L169.8 325.0L52.5 325.0L52.5 319.8Z M259.7 325.0L264.7 314.8L274.6 307.3L284.6 309.8L292.1 319.8L302.1 309.8L312.1 302.3L324.6 299.8L337.1 292.3L352.0 284.8L369.5 279.8L380.0 277.3L380.0 292.3L369.5 294.8L354.5 299.8L342.1 307.3L332.1 314.8L319.6 319.8L314.6 325.0Z M325.8 160.0L359.5 160.0L362.0 170.0L374.5 167.5L380.0 165.0L380.0 195.0L374.5 190.0L369.5 182.5L354.5 180.0L347.0 187.5L344.5 197.4L337.1 192.5L329.6 182.5L324.6 172.5Z M347.0 187.5L354.5 180.0L369.5 182.5L380.0 195.0L380.0 234.9L374.5 237.4L367.0 227.4L357.0 214.9L349.5 202.4Z" fill="#ffaa00"/>
<path d="M332.1 65.4L340.8 59.4L352.0 55.4L357.0 64.9L365.8 72.4L374.5 79.9L380.0 82.4L380.0 165.0L363.3 165.0L367.0 149.8L362.5 134.8L362.5 121.1L353.3 127.8L344.5 124.8L341.6 117.3L347.0 106.1L342.1 97.4L344.5 87.4L335.8 82.4L330.8 74.9Z M323.3 136.1L330.8 129.8L336.6 127.8L336.6 138.6L325.8 138.6Z M277.1 146.0L287.1 142.3L297.1 139.8L298.4 146.0L309.6 144.8L323.3 149.8L325.1 165.0L285.9 165.0L283.4 154.8Z M340.0 59.9L351.2 56.2L357.5 62.4L355.0 72.4L362.5 74.9L372.5 79.9L381.2 74.9L391.2 72.4L388.7 82.4L386.2 92.4L389.9 99.9L379.9 104.9L386.2 112.3L387.4 119.8L389.9 134.8L403.7 129.8L412.4 133.6L413.6 144.8L399.9 147.3L387.4 149.8L377.4 154.8L377.4 165.0L365.0 165.0L370.0 149.8L363.7 139.8L362.5 129.8L355.0 119.8L350.0 107.4L340.0 99.9Z M610.9 67.4L613.4 82.4L617.1 97.4L622.1 109.8L627.1 117.3L637.1 122.3L640.8 129.8L638.3 142.3L634.6 149.8L627.1 165.0L577.2 165.0L579.7 159.8L589.7 154.8L599.6 147.3L604.6 142.3L599.6 139.8L589.7 147.3L582.2 144.8L587.2 139.8L604.6 134.8L610.9 124.8L614.6 112.3L612.1 99.9L608.4 94.9L609.6 82.4Z" fill="#70a800"/>
<clipPath id="ov0"><rect x="200.0" y="100.0" width="360.0" height="165.0"/></clipPath>
<g clip-path="url(#ov0)"><rect x="200.0" y="100.0" width="360.0" height="165.0" fill="#70a800"/>
<path d="M200.0 107.5L207.5 132.5L227.5 144.9L247.4 146.2L264.9 132.5L282.4 122.5L299.9 111.2L307.4 111.2L317.3 117.5L322.3 135.0L324.8 147.4L314.8 146.2L302.4 144.9L287.4 142.4L278.6 146.2L284.9 157.4L286.1 167.4L282.4 172.4L269.9 174.9L254.9 175.4L237.4 174.9L225.0 174.9L210.0 174.9L200.0 175.4Z" fill="#ffaa00"/>
<path d="M200.0 174.9L215.0 172.4L232.5 172.4L249.9 174.9L267.4 176.1L272.4 182.4L267.4 194.9L259.9 199.9L247.4 207.4L230.0 199.9L215.0 202.4L200.0 209.8Z" fill="#ffaa00"/>
<path d="M200.0 183.6L212.5 186.1L215.0 191.1L205.0 197.4L200.0 197.9Z" fill="#70a800"/>
<path d="M257.4 217.3L262.4 207.4L274.9 202.4L289.9 199.9L304.9 198.6L319.8 199.9L334.8 201.1L344.8 199.9L349.8 207.4L356.0 219.8L364.8 232.3L374.8 239.8L386.0 243.6L384.7 247.3L372.3 243.6L362.3 236.1L352.3 224.8L349.8 219.8L339.8 224.8L324.8 229.8L309.8 236.1L294.9 239.8L279.9 238.6L267.4 232.3L259.9 224.8Z" fill="#ffaa00"/>
<path d="M286.1 221.1L292.4 221.1L292.4 226.1L286.1 226.1Z" fill="#70a800"/>
<path d="M307.4 111.2L317.3 117.5L322.3 135.0L324.8 147.4L329.8 162.4L331.1 174.9L324.8 182.4L334.8 192.4L344.8 199.9L347.3 184.9L349.8 179.9L359.8 177.4L354.8 172.4L362.3 167.4L359.8 159.9L364.8 149.9L369.8 142.4L362.3 137.4L359.8 130.0L362.3 122.5L354.8 123.7L349.8 120.0L339.8 121.2L342.3 110.0L339.8 100.0L282.4 100.0L282.4 115.0L301.1 110.0Z" fill="#ffaa00"/>
<path d="M323.6 136.2L336.1 128.7L336.8 138.7L324.8 139.4Z" fill="#70a800"/>
<path d="M387.2 100.0L392.2 107.5L397.2 117.5L407.2 127.5L414.7 132.5L414.7 141.2L402.2 135.0L392.2 137.4L387.2 130.0L388.5 115.0L384.7 105.0Z" fill="#ffaa00"/>
<path d="M386.0 157.9L414.7 157.9L414.7 172.4L419.7 179.9L409.7 178.6L399.7 179.9L389.7 177.4L383.5 182.4L376.0 183.6L372.3 178.6L378.5 172.4L381.0 164.9Z" fill="#ffaa00"/>
<path d="M347.3 186.1L352.3 179.9L362.3 177.4L372.3 186.1L379.8 182.4L384.7 179.9L392.2 184.9L399.7 183.6L412.2 187.4L417.2 194.9L412.2 204.9L407.2 212.3L399.7 207.4L392.2 199.9L384.7 197.4L374.8 199.9L373.5 209.8L382.2 219.8L387.2 229.8L386.0 243.6L374.8 239.8L364.8 232.3L356.0 219.8L349.8 207.4L346.0 199.9Z" fill="#ffaa00"/>
<path d="M414.7 132.5L424.7 130.0L437.2 122.5L452.1 117.5L464.6 115.0L484.6 115.0L489.6 105.0L499.6 101.2L514.6 102.5L524.5 107.5L539.5 106.2L560.0 107.5L560.0 189.9L549.5 194.9L534.5 193.6L529.5 199.9L509.6 196.1L489.6 197.4L482.1 189.9L479.6 182.4L487.1 183.6L489.6 194.9L479.6 199.9L484.6 207.4L474.6 212.3L464.6 209.8L454.6 207.4L444.7 199.9L434.7 194.9L427.2 184.9L419.7 179.9L414.7 172.4Z" fill="#ffaa00"/>
<path d="M479.6 182.4L487.1 183.6L489.6 196.1L480.9 199.9Z" fill="#70a800"/>
<path d="M457.1 195.4L464.1 194.4L464.6 199.9L458.1 200.4Z" fill="#70a800"/>
<path d="M407.2 217.3L417.2 216.1L427.2 219.8L434.7 224.8L432.2 229.8L419.7 226.1L408.5 222.3Z" fill="#ffaa00"/>
<path d="M487.1 234.8L497.1 229.8L509.6 224.8L512.1 234.8L507.1 249.8L499.6 259.8L487.1 265.0L474.6 265.0L479.6 254.8L489.6 249.8Z" fill="#ffaa00"/>
<path d="M532.0 213.6L547.0 212.3L560.0 212.3L560.0 224.8L549.5 226.1L532.0 219.8Z" fill="#ffaa00"/>
<path d="M522.1 265.0L524.5 254.8L534.5 249.8L549.5 252.3L560.0 249.8L560.0 265.0Z" fill="#ffaa00"/>
<path d="M200.0 239.8L207.5 234.8L215.0 239.8L212.5 254.8L205.0 265.0L200.0 265.0Z" fill="#ffaa00"/>
<path d="M232.5 244.8L239.9 232.3L243.7 239.8L239.9 254.8L235.0 259.8Z" fill="#ffaa00"/>
<path d="M242.4 265.0L249.9 254.8L259.9 249.8L264.9 259.8L262.4 265.0Z" fill="#ffaa00"/>
<path d="M424.7 259.8L439.7 254.8L449.7 259.8L459.6 265.0L424.7 265.0Z" fill="#ffaa00"/>
<path d="M210.0 217.3L220.0 209.8L235.0 211.1L249.9 212.3L256.2 219.8L249.9 229.8L237.4 227.3L225.0 229.8L215.0 227.3Z" fill="#ffaa00"/>
<path d="M454.6 244.8L464.6 242.3L472.1 249.8L464.6 259.8L457.1 259.8L449.7 252.3Z" fill="#ffaa00"/>
</g>
<clipPath id="ov1"><rect x="200.0" y="250.0" width="360.0" height="165.0"/></clipPath>
<g clip-path="url(#ov1)"><rect x="200.0" y="250.0" width="360.0" height="165.0" fill="#70a800"/>
<path d="M200.0 250.0L212.5 250.0L213.7 262.5L207.5 266.2L200.0 265.0Z" fill="#ffaa00"/>
<path d="M230.0 273.7L237.4 262.5L249.9 255.0L261.2 252.5L259.9 265.0L253.7 273.7L239.9 277.5L232.5 277.5Z" fill="#ffaa00"/>
<path d="M200.0 272.5L205.0 277.5L206.2 289.9L210.0 299.9L202.5 309.9L200.0 311.2Z" fill="#ffaa00"/>
<path d="M269.4 266.2L277.4 260.0L283.6 261.2L277.4 268.0Z" fill="#ffaa00"/>
<path d="M303.6 289.9L309.8 280.0L319.8 275.0L329.8 270.0L342.3 267.5L339.8 275.0L329.8 282.5L324.8 292.4L314.8 298.7L304.9 297.4Z" fill="#ffaa00"/>
<path d="M324.8 296.2L334.8 287.4L347.3 282.5L359.8 275.0L374.8 270.0L386.0 270.0L387.2 280.0L379.8 289.9L369.8 297.4L359.8 302.4L349.8 299.9L339.8 304.9L329.8 307.4L319.8 314.9L307.4 312.4L309.8 302.4Z" fill="#ffaa00"/>
<path d="M396.0 287.4L399.7 275.0L407.2 265.0L417.2 262.5L420.9 272.5L418.4 285.0L409.7 294.9L399.7 293.7Z" fill="#ffaa00"/>
<path d="M428.4 260.0L439.7 257.5L448.4 258.7L449.7 267.5L464.6 250.0L468.4 250.0L459.6 270.0L449.7 292.4L437.2 314.9L429.7 324.9L419.7 329.9L404.7 332.4L392.2 332.4L389.7 319.9L399.7 314.9L412.2 307.4L417.2 299.9L424.7 287.4L432.2 275.0Z" fill="#ffaa00"/>
<path d="M200.0 327.4L215.0 329.9L232.5 332.4L249.9 322.4L262.4 317.4L272.4 309.9L277.4 319.9L287.4 309.9L299.9 309.9L307.4 312.4L319.8 314.9L329.8 307.4L339.8 304.9L349.8 299.9L359.8 302.4L372.3 299.9L384.7 303.7L383.5 314.9L379.8 324.9L384.7 332.4L383.5 342.4L374.8 347.4L372.3 334.9L362.3 332.4L349.8 336.1L344.8 327.4L349.8 317.4L359.8 312.4L373.5 312.4L372.3 303.7L362.3 307.4L349.8 312.4L339.8 319.9L329.8 327.4L319.8 342.4L312.3 349.9L304.9 344.9L299.9 357.4L294.9 363.6L287.4 369.8L279.9 379.8L269.9 386.1L262.4 389.8L257.4 397.3L247.4 399.8L232.5 397.3L225.0 399.8L215.0 404.8L200.0 399.8Z" fill="#ffaa00"/>
<path d="M259.9 347.4L267.4 341.1L274.9 344.9L278.6 354.9L272.4 359.8L264.9 357.4Z" fill="#70a800"/>
<path d="M344.8 324.9L349.8 317.4L359.8 312.4L373.5 312.4L372.3 334.9L362.3 332.4L349.8 336.1Z" fill="#70a800"/>
<path d="M211.2 343.6L225.0 342.4L227.5 347.4L215.0 348.6Z" fill="#70a800"/>
<path d="M313.6 359.8L312.3 349.9L319.8 342.4L329.8 327.4L339.8 324.9L344.8 327.4L349.8 336.1L362.3 332.4L372.3 334.9L374.8 347.4L364.8 352.4L352.3 352.4L342.3 359.8L341.1 367.3L349.8 369.8L359.8 359.8L374.8 372.3L389.7 367.3L392.2 349.9L389.7 344.9L409.7 339.9L427.2 336.1L432.2 347.4L428.4 362.3L427.2 383.6L349.8 383.6L339.8 384.8L327.3 374.8L319.8 367.3Z" fill="#ffaa00"/>
<path d="M429.7 336.1L439.7 324.9L449.7 317.4L459.6 309.9L464.6 299.9L472.1 289.9L482.1 297.4L489.6 292.4L484.6 282.5L492.1 277.5L504.6 275.0L519.6 267.5L534.5 262.5L549.5 260.0L560.0 252.5L560.0 404.8L524.5 401.0L487.1 399.8L469.6 398.5L462.1 393.6L454.6 384.8L447.2 372.3L439.7 359.8L433.4 348.6Z" fill="#ffaa00"/>
<path d="M465.9 334.9L494.6 324.9L507.1 319.9L512.1 332.4L514.6 349.9L519.6 357.4L517.1 374.8L505.8 378.6L503.3 364.8L499.6 349.9L497.1 332.4L467.1 338.6Z" fill="#70a800"/>
<path d="M470.9 364.8L487.1 364.8L487.1 369.8L505.8 379.8L517.1 374.8L522.1 394.8L499.6 392.3L470.9 389.8Z" fill="#70a800"/>
<path d="M487.1 247.5L488.3 235.0L509.6 228.8L505.8 242.5L502.1 252.5L489.6 260.0Z" fill="#ffaa00"/>
<path d="M503.3 260.0L505.8 247.5L512.1 237.5L514.6 247.5L517.1 260.0L512.1 266.2L504.6 266.2Z" fill="#ffaa00"/>
<path d="M467.6 246.0L472.1 252.5L474.6 260.0L473.4 263.7L482.1 262.5L486.6 260.0L487.1 263.7L479.6 267.5L472.1 270.0L462.1 270.0L464.6 260.0Z" fill="#ffaa00"/>
<path d="M427.2 348.6L433.4 348.6L447.2 372.3L459.6 392.3L449.7 389.8L437.2 386.1L427.2 383.6Z" fill="#ffaa00"/>
<path d="M292.6 368.6L295.9 364.1L313.1 364.1L309.3 368.6L304.4 372.3L300.6 376.1L297.1 378.6L292.1 377.3L288.4 374.8Z" fill="#ffaa00"/>
<path d="M300.6 376.1L306.9 371.1L314.3 371.1L316.8 376.1L319.3 380.8L315.6 381.6L315.6 377.3L304.4 377.3Z" fill="#ffaa00"/>
<path d="M305.6 389.1L317.6 389.1L317.6 400.3L309.3 400.3L306.4 394.5Z" fill="#ffaa00"/>
<path d="M325.6 382.1L329.3 383.3L333.1 388.3L333.6 392.1L328.1 392.1L325.6 387.1Z" fill="#ffaa00"/>
<path d="M280.1 394.5L289.6 394.5L290.9 398.3L295.9 400.8L294.6 403.3L288.4 402.0L284.6 405.8L279.6 413.3L274.6 417.0L268.4 419.5L269.7 413.3L274.6 407.0L275.9 400.8Z" fill="#ffaa00"/>
<path d="M338.1 402.0L341.6 399.5L346.5 398.3L347.3 422.0L341.6 422.0L338.1 414.5Z" fill="#ffaa00"/>
<path d="M367.8 387.1L376.5 385.8L382.5 388.3L380.7 393.3L390.0 392.1L395.0 389.6L401.2 388.3L401.2 392.1L391.2 398.3L385.0 398.3L379.0 394.5L370.3 392.1Z" fill="#ffaa00"/>
<path d="M391.2 407.0L395.0 404.5L401.2 403.3L401.2 412.0L392.5 412.0Z" fill="#ffaa00"/>
<path d="M383.7 414.5L395.0 413.3L395.0 422.0L382.5 422.0Z" fill="#ffaa00"/>
<path d="M414.7 397.3L422.2 394.8L427.2 402.3L419.7 406.0L414.7 403.5Z" fill="#ffaa00"/>
<path d="M392.2 403.5L401.0 402.3L401.0 411.0L392.2 412.3Z" fill="#ffaa00"/>
<path d="M349.8 384.8L427.2 384.8L425.9 389.8L412.2 393.6L399.7 389.8L389.7 397.3L379.8 399.8L374.8 392.3L362.3 393.6L352.3 389.8Z" fill="#ffaa00"/>
<path d="M487.1 401.0L560.0 406.0L560.0 415.0L529.5 415.0L529.5 404.8L512.1 403.5Z" fill="#ffaa00"/>
<path d="M200.0 399.8L215.0 404.8L225.0 399.8L232.5 409.8L217.5 415.0L200.0 415.0Z" fill="#ffaa00"/>
</g>
<clipPath id="ov2"><rect x="340.0" y="440.0" width="180.0" height="82.0"/></clipPath>
<g clip-path="url(#ov2)"><rect x="340.0" y="440.0" width="180.0" height="82.0" fill="#70a800"/>
<path d="M400.8 458.6L404.5 451.2L409.5 449.3L416.9 451.2L424.4 450.5L426.8 454.9L428.7 461.1L432.4 464.8L434.3 469.8L438.0 471.0L440.5 476.0L438.0 479.7L443.0 480.9L447.9 487.1L450.4 493.3L451.6 499.5L454.1 503.3L459.1 502.0L461.0 498.3L459.1 493.3L464.1 494.6L471.5 492.1L475.2 487.1L474.6 479.7L476.5 473.5L480.2 467.3L485.1 463.6L490.1 464.8L491.3 471.0L497.5 469.8L500.0 476.0L505.0 477.2L520.0 477.2L520.0 522.0L399.5 522.0L398.3 515.7L394.6 512.0L392.1 507.0L389.6 494.6L388.4 487.1L386.5 482.2L388.4 476.0L392.1 471.0L394.6 466.1Z" fill="#ffebbe"/>
<path d="M438.0 522.0L443.0 516.9L451.6 513.2L461.6 510.7L467.8 513.2L470.3 518.2L469.0 522.0Z" fill="#70a800"/>
<path d="M388.4 464.8L394.6 466.1L400.8 458.6L407.0 456.1L412.0 461.1L419.4 462.9L426.8 462.3L431.8 464.8L433.0 469.8L429.3 474.7L425.6 472.3L421.9 474.7L414.4 478.5L409.5 480.9L405.7 485.9L403.3 492.1L401.4 498.3L399.5 504.5L395.8 506.4L392.1 502.0L389.6 494.6L388.4 487.1L386.5 482.2L388.4 476.0L392.1 471.0Z" fill="#ffaa00"/>
<path d="M367.9 440.0L405.7 440.0L404.5 447.4L399.5 456.1L396.4 463.6L389.6 466.1L384.7 473.5L380.9 464.8L376.0 453.6L371.0 447.4Z" fill="#ffaa00"/>
<path d="M422.5 492.1L426.8 483.4L431.8 489.6L434.3 495.8L436.8 502.0L435.5 509.5L431.8 515.7L426.8 519.4L425.6 522.0L409.5 522.0L410.7 515.7L416.9 512.0L421.9 509.5L426.8 504.5L428.1 498.3L426.8 494.6Z" fill="#ffaa00"/>
<path d="M435.5 482.8L439.2 480.9L445.4 479.7L447.3 472.3L450.4 476.0L451.6 482.2L447.9 485.9L441.7 485.9L436.1 485.3Z" fill="#ffaa00"/>
<path d="M428.1 440.0L431.8 443.7L433.0 448.7L429.3 449.3L428.3 445.0Z" fill="#ffaa00"/>
<path d="M469.6 441.2L476.5 440.6L477.1 445.0L471.5 446.2Z" fill="#ffaa00"/>
<path d="M352.4 440.0L360.5 440.0L358.6 443.7L353.6 443.7Z" fill="#ffaa00"/>
<path d="M340.0 474.7L345.0 475.4L347.4 479.7L345.0 483.4L348.7 488.4L353.6 492.1L349.9 494.6L345.0 495.8L340.0 497.1Z" fill="#ffaa00"/>
<path d="M366.1 474.1L374.7 476.0L374.7 482.2L366.7 481.6Z" fill="#ffaa00"/>
<path d="M356.7 481.6L361.1 480.9L361.1 484.7L356.7 484.7Z" fill="#ffaa00"/>
<path d="M349.3 470.4L353.0 470.4L353.0 473.2L349.3 473.2Z" fill="#ffaa00"/>
<path d="M382.2 489.6L387.1 493.3L388.4 499.5L385.9 504.5L389.6 509.5L395.8 514.4L398.3 519.4L394.6 520.6L389.6 515.7L384.7 509.5L382.2 502.0L383.4 497.1Z" fill="#ffaa00"/>
<path d="M493.8 522.0L497.5 516.9L505.0 514.4L513.7 515.7L516.2 522.0Z" fill="#ffaa00"/>
<path d="M451.0 499.5L455.4 499.5L455.4 502.0L451.6 502.0Z" fill="#ffaa00"/>
</g>
<clipPath id="ov3"><rect x="440.0" y="440.0" width="180.0" height="82.0"/></clipPath>
<g clip-path="url(#ov3)"><rect x="440.0" y="440.0" width="180.0" height="82.0" fill="#ffebbe"/>
<path d="M440.0 440.0L592.6 440.0L596.3 442.5L601.3 447.4L607.5 452.4L601.3 454.9L597.5 462.3L596.3 471.0L592.6 480.9L593.8 489.6L590.1 500.8L586.4 498.3L578.9 495.8L571.5 494.6L564.1 495.2L556.6 495.8L546.7 498.3L538.0 499.5L535.5 497.1L531.2 500.8L526.8 494.6L524.4 489.6L519.4 493.3L514.4 497.1L510.7 498.3L516.9 493.3L521.3 489.6L520.6 476.6L509.5 477.2L499.5 477.2L498.3 473.5L495.8 470.4L490.9 469.8L488.4 464.2L483.4 464.2L479.7 468.5L476.0 476.0L474.7 482.2L476.0 488.4L473.5 492.1L464.8 494.6L459.8 498.3L458.6 502.0L453.6 503.3L451.2 498.3L449.9 493.3L447.4 488.4L440.0 487.1Z" fill="#70a800"/>
<path d="M440.0 522.0L442.5 516.9L449.9 513.2L459.8 510.7L467.3 512.0L470.4 516.9L469.8 522.0Z" fill="#70a800"/>
<path d="M538.0 487.1L538.0 452.4L543.0 447.4L546.7 440.0L565.3 440.0L565.9 445.0L564.1 451.2L564.7 458.6L562.8 463.6L569.0 472.3L574.0 477.2L569.0 483.4L567.8 487.1Z" fill="#ffaa00"/>
<path d="M521.9 482.2L525.6 480.3L529.3 481.6L528.7 485.9L525.6 489.0L522.5 488.4Z" fill="#ffaa00"/>
<path d="M588.9 456.1L591.3 451.8L596.3 452.4L602.5 455.5L602.5 458.6L595.1 460.5L591.3 459.8Z" fill="#ffaa00"/>
<path d="M587.6 505.7L592.6 493.3L598.8 491.5L606.2 490.9L611.2 497.1L607.5 502.0L601.3 507.0L593.8 504.5Z" fill="#ffaa00"/>
<path d="M535.5 507.0L539.2 505.1L541.7 507.0L540.5 513.2L536.8 515.7Z" fill="#ffaa00"/>
<path d="M493.3 522.0L498.3 514.4L504.5 514.4L514.4 514.4L515.7 522.0Z" fill="#ffaa00"/>
<path d="M518.2 516.9L524.4 517.5L526.2 522.0L519.4 520.6Z" fill="#ffaa00"/>
<path d="M550.4 522.0L552.9 516.9L559.1 515.7L565.3 518.2L566.5 522.0Z" fill="#ffaa00"/>
<path d="M586.4 522.0L587.6 516.9L595.1 514.4L595.1 522.0Z" fill="#ffaa00"/>
<path d="M440.0 479.7L446.2 477.2L447.4 472.3L451.2 476.0L451.8 482.2L447.4 485.9L440.0 485.3Z" fill="#ffaa00"/>
<path d="M469.8 441.2L473.5 440.0L477.2 441.2L476.0 445.6L471.6 446.2Z" fill="#ffaa00"/>
<path d="M614.9 477.2L614.9 464.8L620.0 458.6L620.0 477.2Z" fill="#ffaa00"/>
</g>
<clipPath id="ov4"><rect x="500.0" y="90.0" width="240.0" height="110.0"/></clipPath>
<g clip-path="url(#ov4)"><rect x="500.0" y="90.0" width="240.0" height="110.0" fill="#ffaa00"/>
<path d="M609.8 95.0L614.8 93.3L619.0 105.0L623.2 111.6L626.5 123.3L626.5 131.6L631.5 134.9L638.1 138.3L633.1 143.3L628.2 148.3L623.2 154.9L616.5 159.9L609.8 164.9L604.9 169.9L599.9 176.5L598.2 179.9L593.2 173.2L586.5 171.6L578.2 174.9L579.9 166.6L576.6 161.6L583.2 158.2L593.2 156.6L599.9 151.6L594.9 149.9L588.2 146.6L581.6 144.9L578.2 138.3L583.2 141.6L593.2 144.9L603.2 143.3L608.2 138.3L606.5 131.6L613.2 126.6L614.8 120.0L610.7 115.0L613.2 106.6L611.5 100.0Z" fill="#70a800"/>
<path d="M500.0 194.0L510.0 194.9L521.6 193.2L531.6 194.0L533.3 191.5L544.9 196.5L546.6 189.9L558.3 189.9L559.9 180.7L566.6 178.2L573.2 183.2L578.2 183.2L583.2 189.9L589.9 193.2L593.2 196.5L589.9 200.0L500.0 200.0Z" fill="#70a800"/>
<path d="M688.1 182.4L693.1 179.0L704.7 179.9L716.4 183.2L728.0 186.5L740.0 191.5L740.0 200.0L674.8 200.0L679.8 194.9L684.7 188.2Z" fill="#70a800"/>
<path d="M595.7 104.1L601.5 105.8L599.9 107.5L596.5 106.6Z" fill="#70a800"/>
<path d="M599.9 200.0L604.0 193.2L609.8 188.2L614.8 191.5L616.5 200.0Z" fill="#70a800"/>
<path d="M589.9 200.0L596.5 191.5L603.2 183.2L609.8 173.2L616.5 164.9L623.2 156.6L629.8 148.3L634.8 141.6L638.1 138.3L639.0 143.3L633.1 151.6L628.2 158.2L633.1 156.6L638.1 155.7L643.1 159.9L649.8 164.9L656.4 168.2L649.8 169.9L643.1 168.2L636.5 164.9L629.8 163.2L623.2 166.6L616.5 173.2L611.5 179.9L606.5 188.2L601.5 196.5L598.2 200.0Z" fill="#00c5ff"/>
<path d="M676.4 178.2L688.1 182.4L684.7 188.2L679.8 194.9L674.8 200.0L668.1 200.0L673.1 191.5L675.6 184.9Z" fill="#00c5ff"/>
<path d="M623.2 159.9L628.2 158.2L631.5 160.7L626.5 163.2Z" fill="#ffaa00"/>
</g>
<clipPath id="ov5"><rect x="100.0" y="320.0" width="180.0" height="82.0"/></clipPath>
<g clip-path="url(#ov5)"><rect x="100.0" y="320.0" width="180.0" height="82.0" fill="#70a800"/>
<path d="M100.0 320.0L168.2 320.0L167.0 323.7L153.3 323.1L147.1 325.6L136.0 325.6L134.7 330.5L118.6 331.8L107.4 332.4L100.0 333.6Z" fill="#ffaa00"/>
<path d="M102.5 341.1L107.4 336.1L118.6 334.9L128.5 336.7L133.5 342.3L129.8 347.3L122.3 352.3L118.6 357.2L109.9 356.0L102.5 353.5L103.7 347.3Z" fill="#ffaa00"/>
<path d="M142.2 334.9L144.7 330.5L150.9 331.2L153.3 334.9L164.5 333.6L174.4 332.4L179.4 327.4L186.8 320.0L194.3 320.0L198.0 326.2L209.2 328.7L216.6 326.8L229.0 331.2L232.7 333.6L238.9 329.9L248.9 328.7L265.0 327.4L273.7 323.7L276.2 320.0L280.0 320.0L280.0 382.0L276.2 387.0L266.2 389.5L261.3 394.4L255.1 393.2L248.9 389.5L240.2 385.7L235.2 384.5L229.0 389.5L222.8 394.4L219.1 399.4L211.6 400.6L210.4 394.4L216.6 389.5L222.2 380.8L219.1 378.3L211.6 376.4L205.4 378.3L203.0 369.6L199.2 369.6L198.0 374.6L199.2 379.5L196.8 382.0L191.8 384.5L189.3 389.5L184.4 392.0L175.7 388.2L179.4 383.3L184.4 380.8L185.6 375.8L179.4 373.3L174.4 374.6L169.5 369.6L168.2 363.4L165.7 360.9L169.5 356.0L174.4 354.7L179.4 357.2L186.8 360.9L193.0 362.2L198.0 367.1L204.2 365.9L205.4 360.9L212.9 360.9L211.6 357.2L205.4 356.0L199.2 349.8L194.3 344.8L189.3 341.7L180.6 342.3L172.0 343.6L164.5 341.7L155.8 340.5L149.6 342.3L143.4 343.6Z" fill="#ffaa00"/>
<path d="M211.0 342.9L219.1 342.3L229.0 343.6L227.8 346.7L220.3 349.8L215.4 347.9Z" fill="#70a800"/>
<path d="M241.4 357.2L248.9 353.5L256.3 348.5L265.0 342.3L271.2 340.5L272.4 347.3L273.7 356.0L270.0 357.2L267.5 349.8L262.5 352.3L261.3 360.9L260.0 364.7L253.8 359.7L246.4 359.7L242.7 360.9Z" fill="#70a800"/>
<path d="M134.7 347.9L137.2 347.3L139.1 350.4L136.6 352.9L134.7 351.0Z" fill="#ffaa00"/>
<path d="M107.4 394.4L116.1 390.7L123.6 393.2L128.5 389.5L152.1 389.5L162.0 390.7L163.3 394.4L159.5 402.0L100.0 402.0L100.0 396.9Z" fill="#ffaa00"/>
<path d="M201.7 390.1L207.9 389.5L215.4 387.6L216.6 390.7L209.2 393.2L203.0 392.6Z" fill="#ffaa00"/>
<path d="M201.1 395.1L207.9 394.4L209.2 398.2L201.7 398.8Z" fill="#ffaa00"/>
<path d="M100.0 370.9L103.7 371.5L104.3 374.6L101.2 378.3L100.0 377.7Z" fill="#ffaa00"/>
<path d="M224.1 394.4L231.5 393.2L232.7 398.2L225.3 402.0L222.8 402.0Z" fill="#ffaa00"/>
</g>
<path d="M340.0 246.1L355.0 243.6L370.0 244.9L387.4 246.1L402.4 247.4L417.4 246.1L429.9 237.4" fill="none" stroke="#00c5ff" stroke-width="1.3" stroke-linejoin="round" stroke-linecap="round"/>
<path d="M429.9 237.4L444.9 227.4L459.8 223.7L474.8 218.7L484.8 213.7L494.8 213.7L509.8 218.7L519.8 221.2L532.2 219.9L547.2 213.7L564.7 207.4L579.7 203.7L592.1 199.9L599.6 192.5L607.1 182.5L614.6 172.5L622.1 165.0L627.1 160.0" fill="none" stroke="#00c5ff" stroke-width="2.2" stroke-linejoin="round" stroke-linecap="round"/>
<path d="M513.5 223.7L509.8 234.9L506.0 247.4L502.3 258.6" fill="none" stroke="#00c5ff" stroke-width="2.4" stroke-linejoin="round" stroke-linecap="round"/>
<path d="M502.3 258.6L489.8 269.8L479.8 277.3L464.8 289.8L449.8 309.8" fill="none" stroke="#00c5ff" stroke-width="1.0" stroke-linejoin="round" stroke-linecap="round"/>
<path d="M643.3 259.9L648.3 269.8L652.1 279.8" fill="none" stroke="#00c5ff" stroke-width="2.2" stroke-linejoin="round" stroke-linecap="round"/>
<path d="M581.1 204.9L583.6 219.8L587.4 234.8" fill="none" stroke="#00c5ff" stroke-width="2.2" stroke-linejoin="round" stroke-linecap="round"/>
<path d="M649.8 209.8L647.3 229.8L644.8 249.8L643.6 265.0" fill="none" stroke="#00c5ff" stroke-width="1.6" stroke-linejoin="round" stroke-linecap="round"/>
<path d="M773.4 219.8L777.1 229.8L782.1 232.3" fill="none" stroke="#00c5ff" stroke-width="2.5" stroke-linejoin="round" stroke-linecap="round"/>
<path d="M646.0 260.0L649.8 263.7L652.3 272.5L654.8 282.5" fill="none" stroke="#00c5ff" stroke-width="3.0" stroke-linejoin="round" stroke-linecap="round"/>
<path d="M654.8 282.5L659.8 292.5L672.3 297.4" fill="none" stroke="#00c5ff" stroke-width="1.2" stroke-linejoin="round" stroke-linecap="round"/>
<path d="M149.3 206.2L169.8 207.4L189.8 206.2L209.7 209.9L224.7 204.9L244.7 197.4L264.7 180.0L282.1 172.5L299.6 177.5L314.6 187.5L329.6 195.0L344.5 199.9L354.5 209.9L369.5 234.9L380.0 241.1" fill="none" stroke="#00c5ff" stroke-width="0.8" stroke-linejoin="round" stroke-linecap="round"/>
<path d="M139.8 272.3L147.3 259.9L154.8 247.4L169.8 244.9L189.8 244.9L209.7 232.4L224.7 226.2L244.7 227.4L257.2 234.9L269.7 247.4L284.6 257.4L307.1 262.4L332.1 259.9L357.0 249.9L380.0 246.1" fill="none" stroke="#00c5ff" stroke-width="0.8" stroke-linejoin="round" stroke-linecap="round"/>
<path d="M319.6 299.8L329.6 284.8L342.1 269.8" fill="none" stroke="#00c5ff" stroke-width="0.9" stroke-linejoin="round" stroke-linecap="round"/>
<path d="M349.8 207.4L359.8 222.3L372.3 236.1L386.0 243.6" fill="none" stroke="#00c5ff" stroke-width="2.0" stroke-linejoin="round" stroke-linecap="round"/>
<path d="M678.5 422.5L677.3 435.0L673.5 447.5" fill="none" stroke="#00c5ff" stroke-width="1.4" stroke-linejoin="round" stroke-linecap="round"/>
<path d="M678.3 419.9L677.5 429.8" fill="none" stroke="#00c5ff" stroke-width="1.0" stroke-linejoin="round" stroke-linecap="round"/>
<path d="M586.6 201.6L595.0 193.2L602.5 184.1L609.1 174.1L614.1 165.8L619.9 159.1L627.4 152.5L634.1 145.0L638.2 137.5L639.6 140.8L636.6 148.3L631.6 155.8L624.9 161.6L619.9 165.8L626.6 164.1L636.6 165.3L646.6 163.6L653.2 162.4L660.7 167.1L653.2 167.4L644.9 168.3L636.6 168.6L628.3 167.9L621.6 169.9L616.6 174.9L611.6 183.2L605.8 191.6L598.3 198.2L590.0 203.2Z M677.4 177.4L686.5 181.2L684.8 186.6L679.0 194.1L673.2 200.7L666.5 206.5L659.9 211.5L654.9 217.4L652.4 224.9L651.6 230.0L649.1 230.0L649.9 223.2L652.4 215.7L656.5 210.7L663.2 204.9L669.9 198.2L674.0 191.6L677.4 184.9Z M626.6 212.4L634.9 211.2L643.2 209.5L651.6 206.9L659.9 202.4L663.2 204.9L656.5 209.0L648.2 211.5L639.9 213.2L631.6 214.5L627.4 214.9Z M570.0 202.9L580.0 201.2L588.3 199.6L590.0 203.2L581.7 204.2L570.0 205.2Z M580.0 206.5L582.0 206.5L583.6 219.9L585.8 230.0L583.6 230.0L581.3 219.9Z" fill="#00c5ff"/>
<path d="M590.0 198.2L596.6 193.2L603.3 186.6L608.3 179.9L605.8 174.9L609.9 169.9L614.9 168.3L619.9 169.9" fill="none" stroke="#111" stroke-width="0.6"/>
<path d="M603.3 186.6L609.9 188.2L614.9 183.2L619.9 186.6L624.9 181.6L629.9 184.9L634.9 181.6L639.9 188.2" fill="none" stroke="#111" stroke-width="0.6"/>
<path d="M608.3 179.9L613.3 176.6L618.3 178.3L623.3 173.3L628.3 176.6L631.6 171.6L636.6 174.9" fill="none" stroke="#111" stroke-width="0.6"/>
<path d="M613.3 189.9L618.3 193.2L623.3 189.9L626.6 194.9L631.6 191.6L634.9 196.6" fill="none" stroke="#111" stroke-width="0.6"/>
<path d="M619.9 169.9L624.9 168.3L628.3 171.6L626.6 176.6L629.9 179.9L627.4 184.9L623.3 186.6L619.9 183.2L621.6 178.3" fill="none" stroke="#111" stroke-width="0.6"/>
<path d="M618.3 198.2L621.6 203.2L624.9 206.5L628.3 209.9L627.4 213.2" fill="none" stroke="#111" stroke-width="0.6"/>
<path d="M627.4 212.4L630.7 208.2L633.2 210.7L636.6 206.5L639.1 209.9L643.2 205.7L645.7 208.5L649.9 204.0L652.4 206.9L656.5 201.6L659.0 204.0L662.4 199.1L665.2 201.2L668.2 194.9L671.2 196.6L673.2 189.9L676.5 190.7L676.5 184.1" fill="none" stroke="#111" stroke-width="0.6"/>
<path d="M676.5 203.2L679.8 199.9L678.2 196.6L683.2 193.2L681.5 189.9L686.5 185.7" fill="none" stroke="#111" stroke-width="0.6"/>
<path d="M669.9 206.5L673.2 204.9L676.5 203.2L679.8 202.4" fill="none" stroke="#111" stroke-width="0.6"/>
<path d="M483.6 216.2L476.8 226.9L429.6 326.0" fill="none" stroke="#222" stroke-width="0.7"/>
<path d="M560.9 160.0L572.2 175.0L577.2 187.5L587.2 193.7L592.1 195.0" fill="none" stroke="#222" stroke-width="0.7"/>
<path d="M516.0 102.4L518.5 117.3L529.7 124.8L544.7 129.8L552.2 136.1L559.7 149.8L562.2 165.0" fill="none" stroke="#222" stroke-width="0.7"/>
<path d="M736.5 190.0L735.9 195.0L729.7 217.4L722.2 234.9L714.7 252.4L704.7 269.9L689.7 282.3L672.2 297.3" fill="none" stroke="#222" stroke-width="0.7"/>
<path d="M500.0 400.3L574.9 404.8L632.3 409.3" fill="none" stroke="#222" stroke-width="0.7"/>
<path d="M672.3 297.4L681.0 306.2L684.7 319.9L674.8 327.4L662.3 332.4L657.3 344.9L654.8 354.9L658.5 367.4L656.0 374.8L649.8 384.8L639.8 399.8L632.3 409.8" fill="none" stroke="#222" stroke-width="0.7"/>
<path d="M686.0 298.7L697.2 299.9L703.5 307.4L703.5 319.9L699.7 332.4L697.2 344.9L704.7 352.4L712.2 359.9L719.7 364.9L725.9 361.1L727.2 367.4L719.7 374.8L713.5 387.3L720.9 399.8L724.7 409.8L732.2 417.3L743.4 418.5" fill="none" stroke="#222" stroke-width="0.7"/>
<path d="M302.4 110.0L314.8 115.0L319.8 125.0L323.6 137.4L324.8 149.9L329.8 164.9L331.1 174.9L324.8 181.1L329.8 188.6L339.8 196.1L346.0 199.9" fill="none" stroke="#222" stroke-width="0.7"/>
<path d="M346.0 199.9L347.3 184.9L354.8 177.4L364.8 179.9L372.3 186.1L378.5 179.9L377.3 173.6L386.0 157.9L414.7 157.9" fill="none" stroke="#222" stroke-width="0.7"/>
<path d="M414.7 132.5L414.7 172.4L419.7 179.9L427.2 189.9L437.2 196.1L449.7 204.9L462.1 211.1L474.6 216.1L484.6 214.8" fill="none" stroke="#222" stroke-width="0.7"/>
<path d="M40.0 342.5L124.9 366.2L217.2 408.6" fill="none" stroke="#222" stroke-width="0.7"/>
<path d="M217.2 408.6L224.7 399.9L237.2 399.9L244.7 402.4L252.2 397.4L259.7 399.9L264.7 389.9L279.6 386.2L288.4 373.7L294.6 363.7L314.6 363.7L322.1 372.4L332.1 382.4L349.5 382.4" fill="none" stroke="#222" stroke-width="0.7"/>
<path d="M340.0 383.7L427.4 383.7L428.6 364.9L433.6 347.5L444.9 369.9L449.8 382.4L462.3 393.6L469.8 398.6L632.1 409.1" fill="none" stroke="#222" stroke-width="0.7"/>
<path d="M433.6 347.5L431.9 338.7L426.4 332.5L429.6 326.0" fill="none" stroke="#222" stroke-width="0.7"/>
<path d="M340.0 382.4L347.5 384.9L346.2 402.4L348.7 419.9L348.7 437.3L377.4 439.3L387.4 442.3L384.9 454.8L389.9 469.8L387.4 485.0" fill="none" stroke="#222" stroke-width="0.7"/>
<path d="M632.1 409.9L624.6 424.9L622.1 444.8L619.6 462.3L622.1 479.8L624.6 485.0" fill="none" stroke="#222" stroke-width="0.7"/>
<path d="M384.7 480.0L383.5 487.5L374.8 495.0L369.8 502.5" fill="none" stroke="#222" stroke-width="0.7"/>
</g>
<path d="M133.6 150.5L142.3 148.5L149.8 146.0L156.1 147.3L156.1 138.6L139.8 136.8L138.6 121.8L149.8 120.3L178.5 121.1L179.8 115.3L186.0 117.3L194.8 111.1L200.2 108.6L203.5 116.1L207.7 119.3L208.5 132.3L213.5 134.8L219.7 138.6L227.2 144.3L234.7 143.6L240.9 139.8L245.9 141.1L247.2 147.3L252.2 142.3L259.7 136.1L267.2 132.3L274.6 127.3L282.1 122.3L287.1 116.1L294.6 113.6L301.6 109.8L300.9 104.9L292.1 104.4L285.9 101.1L283.4 92.4L280.9 83.6L278.4 74.9L274.6 68.7L268.4 62.4L265.9 58.7L269.7 59.9L277.1 61.2L282.1 65.4L289.6 66.9L297.1 65.4L304.6 66.2L310.8 72.4L315.8 71.2L318.3 65.4L324.6 62.4L334.6 61.2L342.1 57.9L349.5 55.4L355.8 51.2L363.3 48.7L368.3 44.9L372.0 39.9L370.8 35.0L380.0 32.5L385.7 36.2L384.9 43.7L383.7 49.9L389.9 52.9L393.7 58.7L397.9 65.4L394.9 68.7L391.2 74.9L389.9 83.6L387.4 92.4L391.2 99.9L393.7 109.8L394.9 117.3L401.2 122.3L406.9 128.6L414.9 133.6L419.9 131.1L424.9 127.3L433.6 124.8L439.9 122.3L447.4 117.3L454.8 114.8L462.3 115.3L469.8 116.8L479.8 116.8L489.0 117.3L489.0 111.1L484.8 107.4L488.5 101.9L499.8 102.9L512.3 99.9L518.5 102.4L524.7 106.1L532.2 107.9L539.7 106.9L547.2 105.4L554.7 106.9L562.2 109.8L567.2 107.9L573.4 102.4L578.4 92.4L580.9 84.9L587.2 74.9L594.6 62.4L600.4 53.7L604.6 57.9L609.6 65.4L612.1 74.9L614.6 87.4L618.4 97.4L622.1 107.4L627.1 111.1L632.1 116.1L638.3 121.1L642.1 127.3L640.8 134.8L638.3 142.3L636.1 149.9L638.6 156.2L647.3 156.2L654.8 163.7L664.8 168.7L677.3 172.4L679.8 178.6L688.6 180.8L691.2 177.9L694.4 179.8L697.2 178.2L699.5 180.2L702.4 177.8L704.6 180.1L707.4 179.4L709.2 182.2L712.6 180.6L714.6 183.0L717.5 182.8L719.1 186.0L722.5 184.7L724.6 186.8L727.6 186.3L729.2 189.8L732.4 188.7L734.5 190.6L737.7 189.7L739.2 193.3L742.3 192.6L744.4 194.7L748.2 193.6L748.6 197.2L751.4 197.6L752.5 200.3L756.1 199.7L757.3 203.0L759.5 201.2L762.5 202.1L765.4 198.8L766.2 201.5L768.7 201.8L769.4 205.0L773.1 204.4L772.8 207.0L775.0 208.4L773.7 211.6L776.8 212.5L777.1 214.8L784.6 222.3L789.6 227.3L789.1 239.8L789.6 265.0L790.8 285.0L791.6 309.9L790.8 332.4L784.6 339.9L774.6 347.4L764.6 351.1L754.6 356.1L749.7 364.9L747.2 374.8L742.2 384.8L739.7 392.3L743.4 399.8L742.2 409.8L747.2 417.3L743.4 425.0L745.9 420.0L739.7 426.2L732.2 433.7L725.9 441.2L724.7 447.5L730.9 452.5L735.9 453.7L729.7 457.4L730.9 466.2L734.7 473.7L733.4 483.7L735.9 486.2L729.7 486.2L725.9 484.9L717.2 488.7L707.2 492.4L699.7 493.6L697.2 497.9L696.0 492.4L689.7 494.9L684.7 492.4L677.3 493.6L672.3 489.9L666.0 482.4L662.3 485.4L656.0 486.9L653.5 492.4L646.0 488.7L638.6 484.9L631.1 481.2L633.6 473.7L628.6 477.4L624.8 487.4L622.3 494.9L617.3 502.4L616.1 512.4L613.6 522.4L609.8 532.3L603.6 537.3L596.1 544.8L591.1 554.8L582.4 557.3L576.1 564.8L571.2 569.8L567.4 577.3L561.2 585.0L561.2 589.8L561.0 597.3L562.5 604.8L559.5 608.6L552.0 607.8L542.5 606.8L539.5 602.3L546.5 597.3L545.8 589.8L542.0 593.6L534.5 598.6L527.0 597.3L519.6 596.1L512.1 597.8L507.1 596.1L499.6 593.6L492.1 591.1L484.6 587.9L477.1 589.8L469.6 591.1L464.6 597.3L457.1 602.3L449.7 604.3L445.9 599.8L439.7 596.1L434.7 593.6L427.2 587.4L424.7 582.4L425.9 574.9L429.2 571.1L428.4 567.4L414.7 566.9L399.7 566.6L382.2 566.1L381.0 552.4L377.3 544.9L372.3 538.7L379.8 537.4L379.8 527.4L377.3 517.4L374.8 507.5L367.3 502.5L359.8 500.0L349.8 500.0L339.8 499.5L334.8 495.0L327.3 490.0L319.8 487.5L312.3 483.7L309.6 483.7L299.6 477.4L289.6 475.0L277.1 472.5L269.7 466.2L259.7 460.0L254.7 452.5L252.2 440.0L252.2 437.3L249.7 427.4L252.2 419.9L253.4 411.1L249.7 406.1L242.2 406.9L232.2 407.9L222.2 410.4L214.7 413.6L207.2 419.9L199.8 422.9L192.3 427.4L182.3 431.1L174.8 437.3L167.3 441.1L159.8 438.6L149.8 437.3L139.8 436.1L129.8 437.8L119.9 437.3L119.4 419.9L119.9 406.1L121.9 399.4L116.1 402.4L109.9 407.4L102.4 412.4L92.4 412.9L79.9 412.9L78.7 404.9L67.4 401.1L55.0 398.6L59.9 391.2L55.0 382.4L47.5 372.4L43.7 363.7L37.5 355.0L35.0 347.5L41.2 337.5L47.5 331.2L53.7 326.2L56.2 320.0L52.5 319.8L56.2 312.3L61.2 304.8L62.4 294.8L69.9 289.8L77.4 284.8L84.9 279.3L94.9 276.1L104.9 274.8L114.9 269.3L124.9 268.6L129.8 271.8L136.1 272.3L139.8 259.9L142.3 247.4L144.8 232.4L147.3 214.9L149.3 199.9L148.6 190.0L143.6 180.0L134.8 170.0L133.6 160.0Z" fill="none" stroke="#ff0000" stroke-width="1.5" stroke-linejoin="round"/>
<text x="354" y="120.2" text-anchor="middle" font-size="19.7" font-family="Liberation Sans, Arial, sans-serif" fill="#000" stroke="#fff" stroke-width="2.6" stroke-linejoin="round" paint-order="stroke">RR</text>
<text x="592.5" y="140.3" text-anchor="middle" font-size="19.7" font-family="Liberation Sans, Arial, sans-serif" fill="#000" stroke="#fff" stroke-width="2.6" stroke-linejoin="round" paint-order="stroke">AP</text>
<text x="294.6" y="276.4" text-anchor="middle" font-size="19.7" font-family="Liberation Sans, Arial, sans-serif" fill="#000" stroke="#fff" stroke-width="2.6" stroke-linejoin="round" paint-order="stroke">AM</text>
<text x="572.5" y="282.5" text-anchor="middle" font-size="19.7" font-family="Liberation Sans, Arial, sans-serif" fill="#000" stroke="#fff" stroke-width="2.6" stroke-linejoin="round" paint-order="stroke">PA</text>
<text x="745.9" y="304.4" text-anchor="middle" font-size="19.7" font-family="Liberation Sans, Arial, sans-serif" fill="#000" stroke="#fff" stroke-width="2.6" stroke-linejoin="round" paint-order="stroke">MA</text>
<text x="139.8" y="403.6" text-anchor="middle" font-size="19.7" font-family="Liberation Sans, Arial, sans-serif" fill="#000" stroke="#fff" stroke-width="2.6" stroke-linejoin="round" paint-order="stroke">AC</text>
<text x="301.3" y="443.6" text-anchor="middle" font-size="19.7" font-family="Liberation Sans, Arial, sans-serif" fill="#000" stroke="#fff" stroke-width="2.6" stroke-linejoin="round" paint-order="stroke">RO</text>
<text x="679.2" y="423" text-anchor="middle" font-size="19.7" font-family="Liberation Sans, Arial, sans-serif" fill="#000" stroke="#fff" stroke-width="2.6" stroke-linejoin="round" paint-order="stroke">TO</text>
<text x="505" y="492.6" text-anchor="middle" font-size="19.7" font-family="Liberation Sans, Arial, sans-serif" fill="#000" stroke="#fff" stroke-width="2.6" stroke-linejoin="round" paint-order="stroke">MT</text>
<rect x="710.4" y="6.60" width="32.2" height="15.8" fill="#fff" stroke="#ff1010" stroke-width="1.1"/>
<text x="748.6" y="20.80" font-size="17" font-family="Liberation Sans, Arial, sans-serif" fill="#000">BLA</text>
<rect x="710.4" y="31.95" width="32.2" height="15.8" fill="#fff" stroke="#777" stroke-width="1.1"/>
<text x="748.6" y="46.15" font-size="17" font-family="Liberation Sans, Arial, sans-serif" fill="#000">States</text>
<rect x="709.8" y="56.70" width="33.3" height="16.0" fill="#00c5ff"/>
<text x="748.6" y="71.50" font-size="17" font-family="Liberation Sans, Arial, sans-serif" fill="#000">Water bodies</text>
<rect x="709.8" y="82.05" width="33.3" height="16.0" fill="#70a800"/>
<text x="748.6" y="96.85" font-size="17" font-family="Liberation Sans, Arial, sans-serif" fill="#000">Amazonia</text>
<rect x="709.8" y="107.40" width="33.3" height="16.0" fill="#ffebbe"/>
<text x="748.6" y="122.20" font-size="17" font-family="Liberation Sans, Arial, sans-serif" fill="#000">Cerrado</text>
<rect x="709.8" y="132.75" width="33.3" height="16.0" fill="#e6e600"/>
<text x="748.6" y="147.55" font-size="17" font-family="Liberation Sans, Arial, sans-serif" fill="#000">Pantanal</text>
<rect x="709.8" y="158.10" width="33.3" height="16.0" fill="#ffaa00"/>
<text x="748.6" y="172.90" font-size="17" font-family="Liberation Sans, Arial, sans-serif" fill="#000">CU and IR</text>
<path d="M700.7 621.8V630.9H813.8V621.8M757.2 621.8V630.9" fill="none" stroke="#222" stroke-width="1.3"/>
<text x="700.4" y="615.4" text-anchor="middle" font-size="12.8" font-family="Liberation Sans, Arial, sans-serif" fill="#111">0</text>
<text x="757.2" y="615.4" text-anchor="middle" font-size="12.8" font-family="Liberation Sans, Arial, sans-serif" fill="#111">250</text>
<text x="802.6" y="615.4" font-size="12.8" font-family="Liberation Sans, Arial, sans-serif" fill="#111">500 km</text>
<text x="37.6" y="16.8" text-anchor="middle" font-size="13" font-family="Liberation Sans, Arial, sans-serif" fill="#000">N</text>
<path d="M37.2 21.1L27.3 53.1L37 42.2Z" fill="#000" stroke="#000" stroke-width="0.6"/>
<path d="M37.2 21.1L47.1 53.1L37 42.2Z" fill="#fff" stroke="#000" stroke-width="0.8"/>
<text x="62.8" y="40.8" font-size="18" font-family="Liberation Sans, Arial, sans-serif" fill="#000">A</text>
</g>
<rect x="22.5" y="1.2" width="831.7" height="638.5999999999999" fill="none" stroke="#000" stroke-width="1.5"/>
<path d="M16 39.4H22" stroke="#000" stroke-width="1.2"/>
<text transform="translate(12.0 39.4) rotate(-90)" text-anchor="middle" font-size="15.5" font-family="Liberation Sans, Arial, sans-serif" fill="#000">5°N</text>
<path d="M16 164.2H22" stroke="#000" stroke-width="1.2"/>
<text transform="translate(12.0 164.2) rotate(-90)" text-anchor="middle" font-size="15.5" font-family="Liberation Sans, Arial, sans-serif" fill="#000">0°</text>
<path d="M16 289.0H22" stroke="#000" stroke-width="1.2"/>
<text transform="translate(12.0 289.0) rotate(-90)" text-anchor="middle" font-size="15.5" font-family="Liberation Sans, Arial, sans-serif" fill="#000">5°S</text>
<path d="M16 413.8H22" stroke="#000" stroke-width="1.2"/>
<text transform="translate(12.0 413.8) rotate(-90)" text-anchor="middle" font-size="15.5" font-family="Liberation Sans, Arial, sans-serif" fill="#000">10°S</text>
<path d="M16 538.6H22" stroke="#000" stroke-width="1.2"/>
<text transform="translate(12.0 538.6) rotate(-90)" text-anchor="middle" font-size="15.5" font-family="Liberation Sans, Arial, sans-serif" fill="#000">15°S</text>
<path d="M134.6 640V646" stroke="#000" stroke-width="1.2"/>
<text x="134.6" y="659.3" text-anchor="middle" font-size="15.5" font-family="Liberation Sans, Arial, sans-serif" fill="#000">70°W</text>
<path d="M386.0 640V646" stroke="#000" stroke-width="1.2"/>
<text x="386.0" y="659.3" text-anchor="middle" font-size="15.5" font-family="Liberation Sans, Arial, sans-serif" fill="#000">60°W</text>
<path d="M637.4 640V646" stroke="#000" stroke-width="1.2"/>
<text x="637.4" y="659.3" text-anchor="middle" font-size="15.5" font-family="Liberation Sans, Arial, sans-serif" fill="#000">50°W</text>
<rect x="977.10" y="513.40" width="8.70" height="61.00" fill="#f1d7b6" stroke="#111" stroke-width="0.9"/>
<rect x="983.80" y="391.30" width="16.70" height="183.10" fill="#f4f4dc" stroke="#111" stroke-width="1"/>
<rect x="983.80" y="563.80" width="16.70" height="10.60" fill="#8b7f6d" stroke="#111" stroke-width="1"/>
<rect x="1000.50" y="529.30" width="6.50" height="45.10" fill="#ff0000" stroke="#5a0000" stroke-width="0.7"/>
<rect x="1026.68" y="508.10" width="8.70" height="66.30" fill="#f1d7b6" stroke="#111" stroke-width="0.9"/>
<rect x="1033.38" y="322.70" width="16.70" height="251.70" fill="#f4f4dc" stroke="#111" stroke-width="1"/>
<rect x="1033.38" y="561.00" width="16.70" height="13.40" fill="#8b7f6d" stroke="#111" stroke-width="1"/>
<rect x="1050.09" y="471.70" width="6.50" height="102.70" fill="#ff0000" stroke="#5a0000" stroke-width="0.7"/>
<rect x="1076.27" y="518.40" width="8.70" height="56.00" fill="#f1d7b6" stroke="#111" stroke-width="0.9"/>
<rect x="1082.97" y="344.90" width="16.70" height="229.50" fill="#f4f4dc" stroke="#111" stroke-width="1"/>
<rect x="1082.97" y="562.30" width="16.70" height="12.10" fill="#8b7f6d" stroke="#111" stroke-width="1"/>
<rect x="1099.67" y="475.90" width="6.50" height="98.50" fill="#ff0000" stroke="#5a0000" stroke-width="0.7"/>
<rect x="1125.85" y="504.60" width="8.70" height="69.80" fill="#f1d7b6" stroke="#111" stroke-width="0.9"/>
<rect x="1132.55" y="290.00" width="16.70" height="284.40" fill="#f4f4dc" stroke="#111" stroke-width="1"/>
<rect x="1132.55" y="553.50" width="16.70" height="20.90" fill="#8b7f6d" stroke="#111" stroke-width="1"/>
<rect x="1149.25" y="450.00" width="6.50" height="124.40" fill="#ff0000" stroke="#5a0000" stroke-width="0.7"/>
<rect x="1175.44" y="498.40" width="8.70" height="76.00" fill="#f1d7b6" stroke="#111" stroke-width="0.9"/>
<rect x="1182.14" y="318.20" width="16.70" height="256.20" fill="#f4f4dc" stroke="#111" stroke-width="1"/>
<rect x="1182.14" y="556.50" width="16.70" height="17.90" fill="#8b7f6d" stroke="#111" stroke-width="1"/>
<rect x="1198.84" y="485.40" width="6.50" height="89.00" fill="#ff0000" stroke="#5a0000" stroke-width="0.7"/>
<rect x="1225.02" y="506.90" width="8.70" height="67.50" fill="#f1d7b6" stroke="#111" stroke-width="0.9"/>
<rect x="1231.72" y="378.10" width="16.70" height="196.30" fill="#f4f4dc" stroke="#111" stroke-width="1"/>
<rect x="1231.72" y="558.30" width="16.70" height="16.10" fill="#8b7f6d" stroke="#111" stroke-width="1"/>
<rect x="1248.42" y="521.30" width="6.50" height="53.10" fill="#ff0000" stroke="#5a0000" stroke-width="0.7"/>
<rect x="1274.61" y="509.40" width="8.70" height="65.00" fill="#f1d7b6" stroke="#111" stroke-width="0.9"/>
<rect x="1281.31" y="405.50" width="16.70" height="168.90" fill="#f4f4dc" stroke="#111" stroke-width="1"/>
<rect x="1281.31" y="557.80" width="16.70" height="16.60" fill="#8b7f6d" stroke="#111" stroke-width="1"/>
<rect x="1298.01" y="530.10" width="6.50" height="44.30" fill="#ff0000" stroke="#5a0000" stroke-width="0.7"/>
<rect x="1324.19" y="509.40" width="8.70" height="65.00" fill="#f1d7b6" stroke="#111" stroke-width="0.9"/>
<rect x="1330.89" y="418.60" width="16.70" height="155.80" fill="#f4f4dc" stroke="#111" stroke-width="1"/>
<rect x="1330.89" y="558.00" width="16.70" height="16.40" fill="#8b7f6d" stroke="#111" stroke-width="1"/>
<rect x="1347.60" y="545.60" width="6.50" height="28.80" fill="#ff0000" stroke="#5a0000" stroke-width="0.7"/>
<rect x="1373.78" y="519.90" width="8.70" height="54.50" fill="#f1d7b6" stroke="#111" stroke-width="0.9"/>
<rect x="1380.48" y="465.80" width="16.70" height="108.60" fill="#f4f4dc" stroke="#111" stroke-width="1"/>
<rect x="1380.48" y="564.30" width="16.70" height="10.10" fill="#8b7f6d" stroke="#111" stroke-width="1"/>
<rect x="1397.18" y="561.30" width="6.50" height="13.10" fill="#ff0000" stroke="#5a0000" stroke-width="0.7"/>
<rect x="1423.37" y="500.40" width="8.70" height="74.00" fill="#f1d7b6" stroke="#111" stroke-width="0.9"/>
<rect x="1430.07" y="405.60" width="16.70" height="168.80" fill="#f4f4dc" stroke="#111" stroke-width="1"/>
<rect x="1430.07" y="556.00" width="16.70" height="18.40" fill="#8b7f6d" stroke="#111" stroke-width="1"/>
<rect x="1446.77" y="541.10" width="6.50" height="33.30" fill="#ff0000" stroke="#5a0000" stroke-width="0.7"/>
<rect x="1472.95" y="519.10" width="8.70" height="55.30" fill="#f1d7b6" stroke="#111" stroke-width="0.9"/>
<rect x="1479.65" y="455.60" width="16.70" height="118.80" fill="#f4f4dc" stroke="#111" stroke-width="1"/>
<rect x="1479.65" y="561.00" width="16.70" height="13.40" fill="#8b7f6d" stroke="#111" stroke-width="1"/>
<rect x="1496.35" y="561.30" width="6.50" height="13.10" fill="#ff0000" stroke="#5a0000" stroke-width="0.7"/>
<rect x="1522.54" y="504.10" width="8.70" height="70.30" fill="#f1d7b6" stroke="#111" stroke-width="0.9"/>
<rect x="1529.24" y="404.90" width="16.70" height="169.50" fill="#f4f4dc" stroke="#111" stroke-width="1"/>
<rect x="1529.24" y="555.30" width="16.70" height="19.10" fill="#8b7f6d" stroke="#111" stroke-width="1"/>
<rect x="1545.94" y="539.60" width="6.50" height="34.80" fill="#ff0000" stroke="#5a0000" stroke-width="0.7"/>
<rect x="1572.12" y="510.40" width="8.70" height="64.00" fill="#f1d7b6" stroke="#111" stroke-width="0.9"/>
<rect x="1578.82" y="457.20" width="16.70" height="117.20" fill="#f4f4dc" stroke="#111" stroke-width="1"/>
<rect x="1578.82" y="561.30" width="16.70" height="13.10" fill="#8b7f6d" stroke="#111" stroke-width="1"/>
<rect x="1595.52" y="561.30" width="6.50" height="13.10" fill="#ff0000" stroke="#5a0000" stroke-width="0.7"/>
<rect x="1621.70" y="490.40" width="8.70" height="84.00" fill="#f1d7b6" stroke="#111" stroke-width="0.9"/>
<rect x="1628.40" y="407.60" width="16.70" height="166.80" fill="#f4f4dc" stroke="#111" stroke-width="1"/>
<rect x="1628.40" y="556.30" width="16.70" height="18.10" fill="#8b7f6d" stroke="#111" stroke-width="1"/>
<rect x="1645.11" y="547.30" width="6.50" height="27.10" fill="#ff0000" stroke="#5a0000" stroke-width="0.7"/>
<rect x="1671.29" y="508.10" width="8.70" height="66.30" fill="#f1d7b6" stroke="#111" stroke-width="0.9"/>
<rect x="1677.99" y="428.20" width="16.70" height="146.20" fill="#f4f4dc" stroke="#111" stroke-width="1"/>
<rect x="1677.99" y="557.00" width="16.70" height="17.40" fill="#8b7f6d" stroke="#111" stroke-width="1"/>
<rect x="1694.69" y="543.60" width="6.50" height="30.80" fill="#ff0000" stroke="#5a0000" stroke-width="0.7"/>
<rect x="1720.87" y="438.20" width="8.70" height="136.20" fill="#f1d7b6" stroke="#111" stroke-width="0.9"/>
<rect x="1727.57" y="179.70" width="16.70" height="394.70" fill="#f4f4dc" stroke="#111" stroke-width="1"/>
<rect x="1727.57" y="504.10" width="16.70" height="70.30" fill="#8b7f6d" stroke="#111" stroke-width="1"/>
<rect x="1744.27" y="479.40" width="6.50" height="95.00" fill="#ff0000" stroke="#5a0000" stroke-width="0.7"/>
<rect x="1770.46" y="436.20" width="8.70" height="138.20" fill="#f1d7b6" stroke="#111" stroke-width="0.9"/>
<rect x="1777.16" y="247.60" width="16.70" height="326.80" fill="#f4f4dc" stroke="#111" stroke-width="1"/>
<rect x="1777.16" y="519.10" width="16.70" height="55.30" fill="#8b7f6d" stroke="#111" stroke-width="1"/>
<rect x="1793.86" y="496.90" width="6.50" height="77.50" fill="#ff0000" stroke="#5a0000" stroke-width="0.7"/>
<path d="M941 9.3H952.3V574.4H941" fill="none" stroke="#222" stroke-width="1"/>
<path d="M941 574.40H952.3" stroke="#222" stroke-width="1"/>
<text transform="translate(927.3 574.40) rotate(-90)" text-anchor="middle" font-size="17" font-family="Liberation Sans, Arial, sans-serif" fill="#000">0</text>
<path d="M941 480.18H952.3" stroke="#222" stroke-width="1"/>
<text transform="translate(927.3 480.18) rotate(-90)" text-anchor="middle" font-size="17" font-family="Liberation Sans, Arial, sans-serif" fill="#000">1</text>
<path d="M941 385.96H952.3" stroke="#222" stroke-width="1"/>
<text transform="translate(927.3 385.96) rotate(-90)" text-anchor="middle" font-size="17" font-family="Liberation Sans, Arial, sans-serif" fill="#000">2</text>
<path d="M941 291.74H952.3" stroke="#222" stroke-width="1"/>
<text transform="translate(927.3 291.74) rotate(-90)" text-anchor="middle" font-size="17" font-family="Liberation Sans, Arial, sans-serif" fill="#000">3</text>
<path d="M941 197.52H952.3" stroke="#222" stroke-width="1"/>
<text transform="translate(927.3 197.52) rotate(-90)" text-anchor="middle" font-size="17" font-family="Liberation Sans, Arial, sans-serif" fill="#000">4</text>
<path d="M941 103.30H952.3" stroke="#222" stroke-width="1"/>
<text transform="translate(927.3 103.30) rotate(-90)" text-anchor="middle" font-size="17" font-family="Liberation Sans, Arial, sans-serif" fill="#000">5</text>
<path d="M941 9.08H952.3" stroke="#222" stroke-width="1"/>
<text transform="translate(927.3 9.08) rotate(-90)" text-anchor="middle" font-size="17" font-family="Liberation Sans, Arial, sans-serif" fill="#000">6</text>
<path d="M1836.5 9.3V574.4" fill="none" stroke="#ff0000" stroke-width="1"/>
<path d="M1836.5 574.40H1847.5" stroke="#ff0000" stroke-width="1"/>
<text x="1861" y="580.50" text-anchor="middle" font-size="17" font-family="Liberation Sans, Arial, sans-serif" fill="#ff0000">0</text>
<path d="M1836.5 480.18H1847.5" stroke="#ff0000" stroke-width="1"/>
<text x="1861" y="486.28" text-anchor="middle" font-size="17" font-family="Liberation Sans, Arial, sans-serif" fill="#ff0000">1</text>
<path d="M1836.5 385.96H1847.5" stroke="#ff0000" stroke-width="1"/>
<text x="1861" y="392.06" text-anchor="middle" font-size="17" font-family="Liberation Sans, Arial, sans-serif" fill="#ff0000">2</text>
<path d="M1836.5 291.74H1847.5" stroke="#ff0000" stroke-width="1"/>
<text x="1861" y="297.84" text-anchor="middle" font-size="17" font-family="Liberation Sans, Arial, sans-serif" fill="#ff0000">3</text>
<path d="M1836.5 197.52H1847.5" stroke="#ff0000" stroke-width="1"/>
<text x="1861" y="203.62" text-anchor="middle" font-size="17" font-family="Liberation Sans, Arial, sans-serif" fill="#ff0000">4</text>
<path d="M1836.5 103.30H1847.5" stroke="#ff0000" stroke-width="1"/>
<text x="1861" y="109.40" text-anchor="middle" font-size="17" font-family="Liberation Sans, Arial, sans-serif" fill="#ff0000">5</text>
<path d="M1836.5 9.08H1847.5" stroke="#ff0000" stroke-width="1"/>
<text x="1861" y="15.18" text-anchor="middle" font-size="17" font-family="Liberation Sans, Arial, sans-serif" fill="#ff0000">6</text>
<path d="M993.81 474.06L1040.08 241.34" stroke="#ff0000" stroke-width="1.35" fill="none"/>
<path d="M1048.71 228.15L1084.34 203.35" stroke="#ff0000" stroke-width="1.35" fill="none"/>
<path d="M1094.44 190.59L1137.78 80.91" stroke="#ff0000" stroke-width="1.35" fill="none"/>
<path d="M1144.02 80.91L1187.38 191.09" stroke="#ff0000" stroke-width="1.35" fill="none"/>
<path d="M1192.90 207.15L1237.66 358.45" stroke="#ff0000" stroke-width="1.35" fill="none"/>
<path d="M1248.53 367.49L1281.21 370.91" stroke="#ff0000" stroke-width="1.35" fill="none"/>
<path d="M1294.07 379.07L1334.84 446.33" stroke="#ff0000" stroke-width="1.35" fill="none"/>
<path d="M1345.05 459.81L1383.02 500.39" stroke="#ff0000" stroke-width="1.35" fill="none"/>
<path d="M1393.09 499.25L1434.15 428.45" stroke="#ff0000" stroke-width="1.35" fill="none"/>
<path d="M1442.25 428.68L1484.16 511.52" stroke="#ff0000" stroke-width="1.35" fill="none"/>
<path d="M1492.51 511.89L1533.08 447.01" stroke="#ff0000" stroke-width="1.35" fill="none"/>
<path d="M1542.06 447.03L1582.70 512.67" stroke="#ff0000" stroke-width="1.35" fill="none"/>
<path d="M1592.98 513.69L1630.95 473.11" stroke="#ff0000" stroke-width="1.35" fill="none"/>
<path d="M1644.08 462.59L1679.02 442.01" stroke="#ff0000" stroke-width="1.35" fill="none"/>
<path d="M1692.11 431.46L1730.15 390.34" stroke="#ff0000" stroke-width="1.35" fill="none"/>
<path d="M1743.74 380.76L1777.69 366.24" stroke="#ff0000" stroke-width="1.35" fill="none"/>
<circle cx="992.15" cy="482.40" r="3.1" fill="none" stroke="#ff0000" stroke-width="1.35"/>
<circle cx="1041.73" cy="233.00" r="3.1" fill="none" stroke="#ff0000" stroke-width="1.35"/>
<circle cx="1091.32" cy="198.50" r="3.1" fill="none" stroke="#ff0000" stroke-width="1.35"/>
<circle cx="1140.90" cy="73.00" r="3.1" fill="none" stroke="#ff0000" stroke-width="1.35"/>
<circle cx="1190.49" cy="199.00" r="3.1" fill="none" stroke="#ff0000" stroke-width="1.35"/>
<circle cx="1240.07" cy="366.60" r="3.1" fill="none" stroke="#ff0000" stroke-width="1.35"/>
<circle cx="1289.66" cy="371.80" r="3.1" fill="none" stroke="#ff0000" stroke-width="1.35"/>
<circle cx="1339.24" cy="453.60" r="3.1" fill="none" stroke="#ff0000" stroke-width="1.35"/>
<circle cx="1388.83" cy="506.60" r="3.1" fill="none" stroke="#ff0000" stroke-width="1.35"/>
<circle cx="1438.41" cy="421.10" r="3.1" fill="none" stroke="#ff0000" stroke-width="1.35"/>
<circle cx="1488.00" cy="519.10" r="3.1" fill="none" stroke="#ff0000" stroke-width="1.35"/>
<circle cx="1537.59" cy="439.80" r="3.1" fill="none" stroke="#ff0000" stroke-width="1.35"/>
<circle cx="1587.17" cy="519.90" r="3.1" fill="none" stroke="#ff0000" stroke-width="1.35"/>
<circle cx="1636.75" cy="466.90" r="3.1" fill="none" stroke="#ff0000" stroke-width="1.35"/>
<circle cx="1686.34" cy="437.70" r="3.1" fill="none" stroke="#ff0000" stroke-width="1.35"/>
<circle cx="1735.92" cy="384.10" r="3.1" fill="none" stroke="#ff0000" stroke-width="1.35"/>
<circle cx="1785.51" cy="362.90" r="3.1" fill="none" stroke="#ff0000" stroke-width="1.35"/>
<text transform="translate(1000.15 595.6) rotate(-90)" text-anchor="end" font-size="17" font-family="Liberation Sans, Arial, sans-serif" fill="#000">2001</text>
<text transform="translate(1049.73 595.6) rotate(-90)" text-anchor="end" font-size="17" font-family="Liberation Sans, Arial, sans-serif" fill="#000">2002</text>
<text transform="translate(1099.32 595.6) rotate(-90)" text-anchor="end" font-size="17" font-family="Liberation Sans, Arial, sans-serif" fill="#000">2003</text>
<text transform="translate(1148.90 595.6) rotate(-90)" text-anchor="end" font-size="17" font-family="Liberation Sans, Arial, sans-serif" fill="#000">2004</text>
<text transform="translate(1198.49 595.6) rotate(-90)" text-anchor="end" font-size="17" font-family="Liberation Sans, Arial, sans-serif" fill="#000">2005</text>
<text transform="translate(1248.07 595.6) rotate(-90)" text-anchor="end" font-size="17" font-family="Liberation Sans, Arial, sans-serif" fill="#000">2006</text>
<text transform="translate(1297.66 595.6) rotate(-90)" text-anchor="end" font-size="17" font-family="Liberation Sans, Arial, sans-serif" fill="#000">2007</text>
<text transform="translate(1347.24 595.6) rotate(-90)" text-anchor="end" font-size="17" font-family="Liberation Sans, Arial, sans-serif" fill="#000">2008</text>
<text transform="translate(1396.83 595.6) rotate(-90)" text-anchor="end" font-size="17" font-family="Liberation Sans, Arial, sans-serif" fill="#000">2009</text>
<text transform="translate(1446.41 595.6) rotate(-90)" text-anchor="end" font-size="17" font-family="Liberation Sans, Arial, sans-serif" fill="#000">2010</text>
<text transform="translate(1496.00 595.6) rotate(-90)" text-anchor="end" font-size="17" font-family="Liberation Sans, Arial, sans-serif" fill="#000">2011</text>
<text transform="translate(1545.59 595.6) rotate(-90)" text-anchor="end" font-size="17" font-family="Liberation Sans, Arial, sans-serif" fill="#000">2012</text>
<text transform="translate(1595.17 595.6) rotate(-90)" text-anchor="end" font-size="17" font-family="Liberation Sans, Arial, sans-serif" fill="#000">2013</text>
<text transform="translate(1644.75 595.6) rotate(-90)" text-anchor="end" font-size="17" font-family="Liberation Sans, Arial, sans-serif" fill="#000">2014</text>
<text transform="translate(1694.34 595.6) rotate(-90)" text-anchor="end" font-size="17" font-family="Liberation Sans, Arial, sans-serif" fill="#000">2015</text>
<text transform="translate(1743.92 595.6) rotate(-90)" text-anchor="end" font-size="17" font-family="Liberation Sans, Arial, sans-serif" fill="#000">2016</text>
<text transform="translate(1793.51 595.6) rotate(-90)" text-anchor="end" font-size="17" font-family="Liberation Sans, Arial, sans-serif" fill="#000">2017</text>
 <text x="1388.9" y="654.2" text-anchor="middle" font-size="17.6" font-family="Liberation Sans, Arial, sans-serif" fill="#000">Years</text>
<text transform="translate(882.8 291.5) rotate(-90)" text-anchor="middle" font-size="17.7" font-family="Liberation Sans, Arial, sans-serif" fill="#000">Forest loss (x10<tspan font-size="12" dy="-7">6</tspan><tspan dy="7">ha)</tspan></text>
<text transform="translate(1890.3 291.5) rotate(-90)" text-anchor="middle" font-size="17" font-family="Liberation Sans, Arial, sans-serif" fill="#ff0000">Active fire points x10<tspan font-size="11.5" dy="-7">4</tspan></text>
<text x="993.8" y="45.1" font-size="17" font-family="Liberation Sans, Arial, sans-serif" fill="#000">B</text>
<rect x="1279.3" y="14.7" width="16.8" height="14.4" fill="#f4f4dc" stroke="#111" stroke-width="1"/>
<text x="1317.0" y="27.8" font-size="17.35" font-family="Liberation Sans, Arial, sans-serif" fill="#000">FL - BLA</text>
<rect x="1279.3" y="43.4" width="16.8" height="14.4" fill="#8b7f6d" stroke="#111" stroke-width="1"/>
<text x="1317.0" y="57.0" font-size="17.35" font-family="Liberation Sans, Arial, sans-serif" fill="#000">FL - CU and IR</text>
<rect x="1279.3" y="76.9" width="16.8" height="14.4" fill="#ff0000" stroke="#111" stroke-width="1"/>
<text x="1317.0" y="90.0" font-size="17.55" font-family="Liberation Sans, Arial, sans-serif" fill="#000">FL patches potentially caused by fire</text>
<rect x="1279.3" y="110.8" width="16.8" height="14.4" fill="#f1d7b6" stroke="#111" stroke-width="1"/>
<text x="1317.0" y="124.2" font-size="17.35" font-family="Liberation Sans, Arial, sans-serif" fill="#000">FL &lt;6.25ha - BLA</text>
<path d="M1268.7 151H1285.9M1292.5 151H1310.7" stroke="#ff0000" stroke-width="1.35"/>
<circle cx="1289.2" cy="151" r="3.1" fill="none" stroke="#ff0000" stroke-width="1.35"/>
<text x="1332.3" y="158.3" font-size="17.2" font-family="Liberation Sans, Arial, sans-serif" fill="#000">Active fire points</text>
</svg>
</body></html>
